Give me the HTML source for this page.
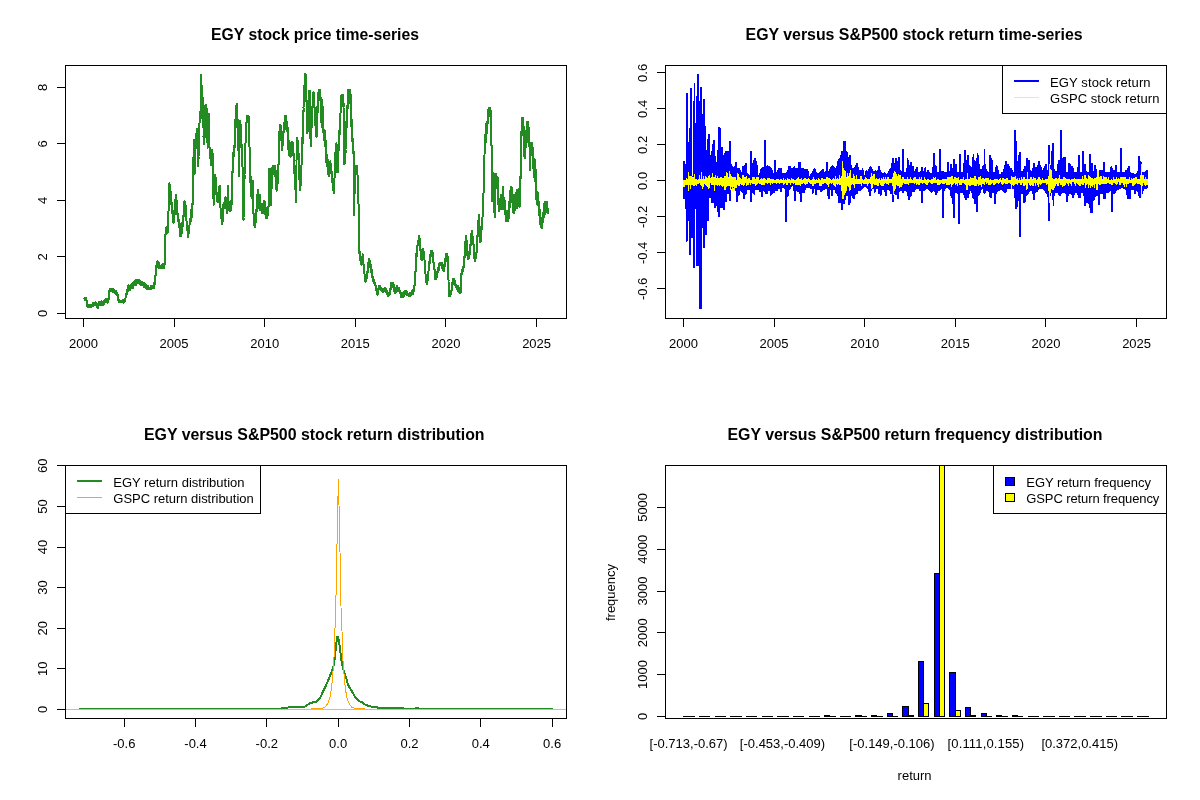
<!DOCTYPE html>
<html lang="en"><head><meta charset="utf-8"><title>EGY versus S&amp;P500</title>
<style>html,body{margin:0;padding:0;background:#fff}svg{display:block}text{font-family:"Liberation Sans", sans-serif;fill:#000}.t{font-size:15.9px;font-weight:bold;text-anchor:middle}.a{font-size:13px;text-anchor:middle}.l{font-size:13px}.k{stroke:#000;stroke-width:1;fill:none;shape-rendering:crispEdges}</style></head><body>
<svg width="1200" height="800" viewBox="0 0 1200 800">
<rect width="1200" height="800" fill="#fff"/>
<text class="t" x="315" y="40.1" textLength="207.8" lengthAdjust="spacingAndGlyphs">EGY stock price time-series</text>
<path class="k" d="M83.5 318.5H536.5M83.5 318.5v8M174.5 318.5v8M264.5 318.5v8M355.5 318.5v8M445.5 318.5v8M536.5 318.5v8M65.5 87.5V313.5M65.5 313.5h-8.5M65.5 256.5h-8.5M65.5 200.5h-8.5M65.5 143.5h-8.5M65.5 87.5h-8.5"/>
<text class="a" x="83.4" y="347.5">2000</text>
<text class="a" x="174" y="347.5">2005</text>
<text class="a" x="264.7" y="347.5">2010</text>
<text class="a" x="355.3" y="347.5">2015</text>
<text class="a" x="446" y="347.5">2020</text>
<text class="a" x="536.6" y="347.5">2025</text>
<text class="a" transform="translate(46.7 313.3) rotate(-90)">0</text>
<text class="a" transform="translate(46.7 256.8) rotate(-90)">2</text>
<text class="a" transform="translate(46.7 200.3) rotate(-90)">4</text>
<text class="a" transform="translate(46.7 143.8) rotate(-90)">6</text>
<text class="a" transform="translate(46.7 87.3) rotate(-90)">8</text>
<polyline fill="none" stroke="#228b22" stroke-width="2" stroke-linejoin="round" shape-rendering="crispEdges" points="84.1,298.6 84.1,298.7 84.2,298.6 84.3,298.2 84.3,298.2 84.4,298.2 84.5,298.5 84.6,300.1 84.6,298.9 84.7,298.4 84.8,299.4 84.8,299.6 84.9,299.5 85,298.5 85.1,299 85.1,300 85.2,298.4 85.3,298.7 85.3,298.2 85.4,298.2 85.5,298.2 85.6,298.7 85.6,298.2 85.7,299.6 85.8,300 85.8,299.8 85.9,298.2 86,298.7 86.1,299.6 86.1,300.1 86.2,299.2 86.3,299.8 86.3,299.9 86.4,300.2 86.5,300.5 86.5,300.5 86.6,300.9 86.6,301.6 86.7,301.8 86.8,302.3 86.8,302.9 86.9,303.5 87,303.1 87.1,304.2 87.1,305.4 87.2,305.1 87.3,305.9 87.3,306.2 87.3,306.2 87.4,306.6 87.5,306.7 87.6,305.9 87.6,306.1 87.7,306.7 87.8,306.2 87.8,306.8 87.9,306.4 88,306.9 88.1,307.1 88.1,306.2 88.2,306.5 88.3,306 88.3,306.3 88.4,305.4 88.5,305.5 88.6,305.9 88.6,307 88.7,307.1 88.8,305.7 88.8,305.5 88.9,306.6 89,304.9 89.1,305.5 89.1,306.1 89.2,307.1 89.3,307.1 89.3,306.5 89.4,306.2 89.5,306.2 89.6,307.1 89.6,306.6 89.7,306.3 89.8,306.8 89.8,306.5 89.9,306.4 90,305.6 90.1,306.2 90.1,306.1 90.2,307.1 90.3,307.1 90.3,306.8 90.4,306.9 90.5,306.7 90.6,306.7 90.6,306.7 90.6,306.7 90.7,306.3 90.8,306.5 90.8,305.5 90.9,304.6 91,305.4 91.1,305.3 91.1,306.1 91.2,307.1 91.3,306.1 91.3,305.6 91.4,306.1 91.5,306.5 91.6,306 91.6,305.8 91.7,306.5 91.8,306.5 91.8,305.2 91.9,305.5 92,305.7 92.1,304.8 92.1,305.6 92.2,304.9 92.3,306.1 92.3,305.9 92.4,305.7 92.5,305 92.6,305.1 92.6,303.6 92.7,303.7 92.8,305 92.8,303.3 92.9,305.2 93,303.6 93,305.2 93.1,304.3 93.2,305.4 93.3,305.2 93.3,303.7 93.4,305.5 93.5,306 93.5,305 93.6,304.7 93.7,304.6 93.8,304.5 93.8,304.6 93.8,304.5 93.9,304.5 94,304.2 94,303.9 94.1,303.3 94.2,304.9 94.3,304.3 94.3,305.1 94.4,304.5 94.5,303.6 94.5,303.6 94.6,303.4 94.7,303.8 94.8,303.5 94.8,303.5 94.9,302.5 95,302.6 95,304.8 95.1,303.5 95.2,302.6 95.3,303.5 95.3,304.8 95.4,302.7 95.5,303 95.5,302.7 95.6,302.5 95.7,303.3 95.8,303.2 95.8,303.3 95.9,302.6 96,303.2 96,302.9 96.1,302.9 96.2,302.8 96.3,302.9 96.3,303 96.3,303.1 96.4,303.5 96.5,303.6 96.5,303.5 96.6,303.5 96.7,304.6 96.8,304.3 96.8,304.5 96.9,304.8 97,306.1 97,306.2 97.1,306.2 97.2,305.5 97.3,304.7 97.3,306.5 97.4,307.3 97.5,306.8 97.5,307.2 97.6,307.6 97.7,307.7 97.8,307.8 97.8,307.7 97.9,307.8 97.9,307.7 98,307.6 98,307.5 98.1,307.5 98.2,308.2 98.3,308.2 98.3,305.9 98.4,304.5 98.5,305.9 98.5,304.7 98.6,304.9 98.7,305.6 98.8,303.5 98.8,302.3 98.9,303.7 99,303.8 99,303.5 99.1,303.4 99.2,302.6 99.3,302 99.3,302.4 99.4,302.2 99.5,302.1 99.5,302.1 99.5,302.2 99.6,302.4 99.7,302 99.8,301.9 99.8,301.6 99.9,301.5 100,302.5 100,302.1 100.1,303 100.2,303.3 100.3,305 100.3,302.7 100.4,303.9 100.5,303.5 100.5,303.5 100.6,302.3 100.7,302.9 100.8,304.1 100.8,303.9 100.9,304.1 101,303.9 101,305.1 101.1,304.6 101.2,302.6 101.3,303.2 101.3,302.4 101.4,301.1 101.5,303.1 101.5,305.4 101.6,305.1 101.7,304.4 101.8,304.6 101.8,305.4 101.9,305.4 101.9,305.4 102,305.3 102,305.2 102.1,305.4 102.2,305.4 102.3,305.2 102.3,304.1 102.4,304.9 102.5,304.1 102.5,305.2 102.6,303.5 102.7,303.9 102.7,304 102.8,302.9 102.9,305 103,305.5 103,303.9 103.1,304.4 103.2,304.1 103.2,301.3 103.3,302.8 103.4,303 103.5,303.1 103.5,302 103.6,302.3 103.7,302.4 103.7,303.6 103.8,303.2 103.9,302.7 104,303.8 104,302.2 104.1,301.8 104.2,300.3 104.2,302.7 104.3,303 104.4,302.9 104.5,302.6 104.5,301.9 104.6,301.7 104.7,301.2 104.7,300.9 104.8,301 104.9,302 105,301.4 105,300.9 105.1,300.5 105.2,300.5 105.2,300.5 105.2,300.6 105.3,300.6 105.4,300.4 105.5,299.8 105.5,300.1 105.6,301.2 105.7,300.4 105.7,300.2 105.8,300.2 105.9,300.5 106,299 106,299.8 106.1,299.4 106.2,301 106.2,299.9 106.3,300.8 106.4,302 106.5,300.7 106.5,300 106.6,300.5 106.7,300.5 106.7,299.6 106.8,300.6 106.9,302.4 107,300.9 107,300.5 107.1,299.5 107.2,300.5 107.2,299.3 107.3,299.1 107.4,301.2 107.5,299.9 107.5,301.3 107.6,302.2 107.7,301.3 107.7,301.3 107.8,302.6 107.9,301.1 108,300.1 108,299.1 108.1,300.1 108.2,301.3 108.2,301.1 108.3,300.4 108.4,300.4 108.4,300.5 108.5,300.3 108.5,299.7 108.6,299.2 108.7,298.7 108.7,297.7 108.8,297.1 108.9,296.8 109,296 109,295.9 109.1,296.8 109.2,295.5 109.2,294 109.3,291.3 109.4,292.1 109.5,290.1 109.5,289.8 109.6,290.4 109.7,289.9 109.7,289.1 109.7,289.1 109.8,288.9 109.9,288.7 110,289.3 110,291 110.1,290.2 110.2,288.7 110.2,288.7 110.3,288.7 110.4,288.7 110.5,288.7 110.5,288.7 110.6,288.7 110.7,289.9 110.7,290.6 110.8,290.9 110.9,289.2 111,289.7 111,289.2 111.1,288.7 111.2,288.7 111.2,288.7 111.3,288.7 111.4,289.2 111.5,289 111.5,289.3 111.6,290.3 111.7,288.7 111.7,288.7 111.8,288.8 111.9,289.5 112,288.8 112,290.2 112.1,289.7 112.2,288.7 112.2,288.7 112.3,289.3 112.4,289.3 112.5,288.9 112.5,289.1 112.5,289.2 112.6,289.7 112.7,289.4 112.7,289.3 112.8,288.7 112.9,291.9 112.9,290.4 113,291.8 113.1,289.9 113.2,290.2 113.2,288.7 113.3,289.1 113.4,291 113.4,289.2 113.5,291.3 113.6,291.2 113.7,289.7 113.7,289.9 113.8,290 113.9,290.6 113.9,290.3 114,290 114.1,290.5 114.2,290 114.2,289.5 114.3,290.8 114.4,292.3 114.4,290.3 114.5,291.3 114.6,291.1 114.7,291.1 114.7,292.3 114.8,292.1 114.9,292.5 114.9,292.4 114.9,292.4 115,292.4 115.1,292.2 115.2,292.8 115.2,292.6 115.3,293.3 115.4,293 115.4,291.8 115.5,292.5 115.6,292.9 115.7,294.1 115.7,292.5 115.8,293 115.9,291.4 115.9,293.4 116,292.3 116.1,291.2 116.2,292.7 116.2,294.5 116.3,292.4 116.4,292.2 116.4,292.5 116.5,292.3 116.6,293.8 116.7,293.2 116.7,293.1 116.8,294.5 116.9,293.6 116.9,294.6 117,293.6 117.1,293.4 117.2,293.2 117.2,295.1 117.3,294.7 117.4,294.8 117.4,294.8 117.4,295.1 117.5,295.5 117.6,296.8 117.7,295.8 117.7,294.9 117.8,295.1 117.9,295.2 117.9,297.4 118,298.5 118.1,297.4 118.2,296.7 118.2,297.8 118.3,300 118.4,297 118.4,299.3 118.5,298.8 118.6,300.8 118.7,299.9 118.7,300.5 118.8,300.4 118.9,301.1 118.9,302 119,302.1 119,302.1 119.1,302 119.2,301.3 119.2,301.5 119.3,301.8 119.4,301.9 119.4,301.9 119.5,301 119.6,301.6 119.7,301.9 119.7,302.5 119.8,302.5 119.9,302.5 119.9,301.5 120,301.8 120.1,301.4 120.2,301.1 120.2,301.6 120.3,300.9 120.4,302.1 120.4,301.9 120.5,302.1 120.6,301.8 120.7,301.2 120.7,300.8 120.8,301.3 120.9,301.2 120.9,301.8 121,301.8 121.1,300.7 121.2,301.6 121.2,301.1 121.3,301.4 121.4,301.7 121.4,301.8 121.4,301.8 121.5,301.8 121.6,301.7 121.7,301.6 121.7,301.4 121.8,300.9 121.9,301.2 121.9,301.1 122,301.6 122.1,300.6 122.2,301.6 122.2,301.9 122.3,301.7 122.4,301.4 122.4,302.1 122.5,300.4 122.6,301.7 122.6,302 122.7,302.1 122.8,302.3 122.9,301.4 122.9,301.4 123,302.2 123.1,302.3 123.1,302.2 123.2,300.6 123.3,301.9 123.4,302.5 123.4,302.5 123.5,302.5 123.6,300.6 123.6,302.2 123.7,301.8 123.8,299.5 123.9,301.3 123.9,300.3 124,300.1 124.1,300.6 124.1,302.5 124.2,301.7 124.3,302 124.4,302.5 124.4,302.5 124.5,302.1 124.6,301.8 124.6,301.7 124.7,301.8 124.7,301.7 124.8,301.4 124.9,301.1 124.9,301.2 125,300 125.1,299.8 125.1,300.2 125.2,300 125.3,300.2 125.4,299.4 125.4,298.2 125.5,298.2 125.6,296.7 125.6,295.3 125.7,296.8 125.8,296.4 125.9,296.5 125.9,294.3 126,294.8 126.1,294.6 126.1,294.3 126.2,293.8 126.3,294 126.3,294 126.4,293.9 126.4,293.4 126.5,293.2 126.6,293.5 126.6,290.5 126.7,291.4 126.8,292.4 126.9,292.7 126.9,293.8 127,293.4 127.1,292.1 127.1,291.5 127.2,291.7 127.3,290.1 127.4,289.9 127.4,290.7 127.5,292 127.6,289.9 127.6,289.1 127.7,288.9 127.8,290 127.9,288.6 127.9,289.7 128,287.1 128.1,286.9 128.1,286.7 128.2,287.1 128.3,287 128.4,285.9 128.4,285.9 128.4,285.9 128.5,285.8 128.6,285.3 128.6,286.4 128.7,286.8 128.8,287.1 128.9,286.1 128.9,287.6 129,286.7 129.1,288 129.1,286.2 129.2,285.6 129.3,286.8 129.4,286.1 129.4,287.6 129.5,287.7 129.6,286.4 129.6,287.2 129.7,287 129.8,288.5 129.9,287.2 129.9,287.1 130,289 130.1,290.2 130.1,290 130.2,288.6 130.3,288.4 130.4,288.4 130.4,288.3 130.4,288.1 130.5,288.1 130.6,288.2 130.6,287.4 130.7,285.9 130.8,285.2 130.9,287.4 130.9,286.5 131,286.8 131.1,287.2 131.1,287.8 131.2,286.8 131.3,287.3 131.4,285.8 131.4,285.8 131.5,285 131.6,287.2 131.6,286.5 131.7,285.3 131.8,285.3 131.9,285.3 131.9,286.4 132,284.2 132.1,284.3 132.1,284.9 132.2,286.1 132.3,285.4 132.3,285.1 132.3,285.1 132.4,285.7 132.5,285.3 132.6,284.9 132.6,286.1 132.7,286 132.8,286.2 132.8,284.7 132.9,287.2 133,287.8 133.1,286.6 133.1,286.3 133.2,282.9 133.3,284.9 133.3,284.6 133.4,285.3 133.5,285.8 133.6,284.7 133.6,282.7 133.7,284.5 133.8,283.7 133.8,284 133.9,283.7 134,283.9 134.1,281.8 134.1,285 134.2,284.9 134.3,285.2 134.3,285.3 134.4,284.6 134.4,284.6 134.5,284.3 134.6,283.7 134.6,283.6 134.7,283.9 134.8,281.8 134.8,283.4 134.9,281.7 135,283.2 135.1,283.2 135.1,282.9 135.2,282.9 135.3,282.3 135.3,281.9 135.4,280.4 135.5,281.8 135.6,284.6 135.6,285.5 135.7,285.1 135.8,284 135.8,281.8 135.9,283.7 136,282.3 136.1,281.8 136.1,281.2 136.2,281.4 136.3,280.7 136.3,280.8 136.4,279.8 136.5,279.9 136.6,282.8 136.6,281.1 136.7,280.5 136.8,280.6 136.8,280.3 136.9,280.2 136.9,280.2 137,280.5 137.1,280.6 137.1,280.6 137.2,282.1 137.3,280.3 137.3,280.6 137.4,279.9 137.5,282.3 137.6,279.8 137.6,279.8 137.7,279.8 137.8,281.2 137.8,281.8 137.9,283 138,279.8 138.1,281.5 138.1,280.8 138.2,280.1 138.3,281.5 138.3,280.1 138.4,279.8 138.5,279.8 138.6,279.8 138.6,279.8 138.7,281.3 138.8,281.8 138.8,283.6 138.9,282 139,280.1 139.1,280.6 139.1,280.9 139.2,281.1 139.3,281.8 139.3,281.8 139.3,281.7 139.4,281.9 139.5,282 139.6,282.4 139.6,282.4 139.7,283.2 139.8,282.8 139.8,284.2 139.9,283.7 140,283.6 140.1,283.6 140.1,281.4 140.2,282.2 140.3,282.5 140.3,283.2 140.4,281.6 140.5,284.8 140.6,284.1 140.6,282.3 140.7,281.1 140.8,282.5 140.8,283.3 140.9,282.9 141,283.8 141.1,283.3 141.1,284.6 141.2,283.6 141.3,284.1 141.3,285.5 141.4,285.5 141.5,284.7 141.6,284.5 141.6,284.5 141.7,285.1 141.8,285.1 141.8,285 141.8,284.9 141.9,284.4 142,284 142.1,284 142.1,282.1 142.2,282 142.3,283.2 142.3,284.3 142.4,284.3 142.5,282.3 142.5,283.2 142.6,285 142.7,285.3 142.8,284.6 142.8,283.3 142.9,284.7 143,283.7 143,282.6 143.1,282.6 143.2,285.3 143.3,284.8 143.3,285.7 143.4,284 143.5,285.1 143.5,283.5 143.6,283.5 143.7,286.7 143.8,285.7 143.8,283.7 143.9,283.6 144,283.8 144,284.1 144.1,283.5 144.2,283.4 144.2,283.4 144.3,283.5 144.3,283.7 144.4,284.7 144.5,284.6 144.5,285.2 144.6,283.3 144.7,285 144.8,287.2 144.8,286.4 144.9,285.6 145,285.3 145,287.2 145.1,284.7 145.2,284.9 145.3,285.7 145.3,286.4 145.4,285.3 145.5,285.9 145.5,285.5 145.6,285.9 145.7,285.8 145.8,284.6 145.8,285.7 145.9,287.2 146,285.6 146,285.9 146.1,287.2 146.2,285.7 146.3,286.7 146.3,286 146.4,287.6 146.5,288.4 146.5,288.1 146.6,287.5 146.6,287.5 146.7,287.6 146.8,287.7 146.8,288.6 146.9,287.1 147,288.5 147,288 147.1,289.5 147.2,288.7 147.3,287.4 147.3,288.1 147.4,288.9 147.5,288.4 147.5,288.8 147.6,287.8 147.7,285.6 147.8,288.4 147.8,289.2 147.9,288.8 148,288.6 148,289.5 148.1,288.4 148.2,287.7 148.3,288.1 148.3,289.5 148.4,287.5 148.5,289.5 148.5,288.4 148.6,287.4 148.7,289.5 148.8,289.1 148.8,288.1 148.9,288.6 149,289.2 149,289.2 149.1,289.1 149.1,289.2 149.2,289.4 149.3,288.8 149.3,289.2 149.4,289 149.5,288.3 149.5,288.1 149.6,288.7 149.7,288.8 149.8,288.1 149.8,288 149.9,289.5 150,289.3 150,289.5 150.1,289.5 150.2,289.5 150.3,289.5 150.3,288.6 150.4,289.4 150.5,288.4 150.5,289.5 150.6,289.5 150.7,287 150.8,286.7 150.8,288.5 150.9,289.2 151,289.4 151,288.5 151.1,288.7 151.2,289 151.3,288.3 151.3,289.3 151.4,285.8 151.5,287.9 151.5,286.7 151.6,288.5 151.7,287.8 151.8,286.7 151.8,287.8 151.9,286.7 152,286.4 152,286 152.1,287.2 152.2,287.7 152.2,287.7 152.3,287.5 152.3,287.5 152.4,287.5 152.5,287.3 152.5,287.6 152.6,288.2 152.7,287.1 152.7,286.7 152.8,286.6 152.9,286.7 153,285.6 153,287.4 153.1,286.3 153.2,286.8 153.2,285.4 153.3,286.3 153.4,286.6 153.5,285.7 153.5,288.2 153.6,287 153.7,288.3 153.7,287.6 153.8,285.4 153.9,284.9 154,285.7 154,285.4 154.1,285.2 154.2,284.7 154.2,282.6 154.3,283.8 154.4,281.9 154.5,284.2 154.5,283.9 154.6,284 154.7,284.2 154.7,284.3 154.8,284.2 154.8,283 154.9,281.8 155,279.9 155,279.1 155.1,280.9 155.2,278 155.2,278.6 155.3,275.5 155.4,276.1 155.5,274.9 155.5,274.3 155.6,274.4 155.7,275.4 155.7,272.8 155.8,271.3 155.9,269.6 156,269.3 156,268.3 156.1,268 156.1,267.8 156.2,268.1 156.2,265.9 156.3,265.7 156.4,266.9 156.5,265.5 156.5,264 156.6,264 156.7,262 156.7,263.4 156.8,267.1 156.9,265.6 157,262.4 157,261.8 157.1,261.7 157.2,261.7 157.2,261.5 157.2,261.5 157.3,262.1 157.4,262.9 157.5,262.2 157.5,261.1 157.6,261.1 157.7,261.1 157.7,261.1 157.8,262.8 157.9,262.2 158,263.9 158,266.8 158.1,266.9 158.2,263.3 158.2,265.4 158.3,266.7 158.4,264.3 158.5,263.2 158.5,264.3 158.6,262.5 158.7,266.8 158.7,262.3 158.8,263 158.9,264.6 159,265.4 159,266.4 159.1,267 159.2,266.6 159.2,268.4 159.3,265 159.4,266.8 159.5,266.9 159.5,267.6 159.6,267.9 159.6,268 159.7,267.9 159.7,268.2 159.8,268.3 159.9,267.5 160,268.4 160,268.4 160.1,267.3 160.2,268.2 160.2,268.4 160.3,268.4 160.4,268.4 160.5,268 160.5,267.1 160.6,267.3 160.7,266.9 160.7,268.4 160.8,267.5 160.9,267.1 161,265.8 161,267.1 161.1,266.2 161.2,267 161.2,268.4 161.3,268.4 161.4,268.4 161.5,268.4 161.5,268.2 161.6,267.8 161.7,267.3 161.7,268.4 161.8,266.5 161.9,268.4 161.9,268.4 162,266.8 162.1,266.7 162.2,266.3 162.2,267.5 162.3,266.6 162.4,268.4 162.4,267 162.5,264.4 162.6,266 162.7,265.6 162.7,267.2 162.8,267.9 162.9,267.7 162.9,267.7 162.9,267.2 163,268.2 163.1,267.9 163.2,267.5 163.2,268.4 163.3,268.4 163.4,268.4 163.4,268.1 163.5,267.6 163.6,267.7 163.7,265.8 163.7,264.3 163.8,265.5 163.9,264.2 163.9,265.1 164,265.5 164.1,268.4 164.2,265.3 164.2,265.1 164.3,264.9 164.4,265.2 164.4,265.1 164.5,264.8 164.5,264.2 164.6,261.1 164.7,258.2 164.7,256.7 164.8,254.3 164.9,250.5 164.9,248.6 165,246.6 165.1,244.4 165.2,242 165.2,241.9 165.2,240.1 165.3,238.4 165.4,239.8 165.4,234.9 165.5,234.7 165.6,235.2 165.7,233.5 165.7,231.3 165.8,231.6 165.9,231 165.9,230 166,227.9 166.1,227.8 166.1,227.4 166.2,227.3 166.2,227.6 166.3,228.5 166.4,229.6 166.4,228.1 166.5,230.4 166.6,232 166.7,232.6 166.7,233.5 166.8,230.6 166.9,229.6 166.9,231.6 167,227.7 167.1,229.9 167.2,229.2 167.2,229.4 167.3,226.6 167.4,227.8 167.4,230.3 167.5,232.4 167.6,232.9 167.7,232.1 167.7,232.2 167.8,232.2 167.8,231 167.9,228.9 167.9,227.6 168,227.9 168.1,224.2 168.2,218 168.2,216.4 168.3,213.9 168.4,212.7 168.4,213.5 168.5,211.2 168.6,209.5 168.6,209 168.7,207.4 168.7,204.4 168.8,201 168.9,198.5 168.9,197.6 169,196.8 169.1,195.7 169.2,193.2 169.2,190.1 169.3,187 169.4,183.5 169.4,183.1 169.4,183.5 169.5,184.5 169.6,184.6 169.7,187.5 169.7,186.4 169.8,184.5 169.9,191.4 169.9,191.9 170,191.3 170.1,193.6 170.2,195.2 170.2,194.2 170.3,186.3 170.4,189.1 170.4,191.2 170.5,190.9 170.6,194.7 170.7,198.9 170.7,196.7 170.8,195.9 170.9,199.9 170.9,199.1 171,199.8 171,199.8 171.1,200.5 171.2,200.2 171.2,202.1 171.3,201.2 171.4,199.8 171.4,202.3 171.5,205.2 171.6,202.7 171.7,204.8 171.7,204.7 171.8,212.7 171.9,206.5 171.9,210.2 172,208 172.1,207.4 172.1,209.7 172.2,211.2 172.3,212.4 172.4,210.8 172.4,209.4 172.5,209.8 172.6,210.9 172.6,211.1 172.6,211.5 172.7,212.5 172.8,214 172.9,216.1 172.9,215.4 173,211.7 173.1,211.1 173.1,210.8 173.2,218.5 173.3,215.6 173.4,220.1 173.4,220.5 173.5,222.9 173.6,222.9 173.6,220.9 173.7,220.6 173.8,221.3 173.9,222 173.9,222.5 173.9,222.4 174,222.1 174.1,219.4 174.1,219.2 174.2,216.7 174.3,217.1 174.4,218.3 174.4,215.9 174.5,216.5 174.6,210.1 174.6,214 174.7,210.4 174.8,211.6 174.9,210.2 174.9,201.9 175,203.1 175.1,205.4 175.1,209.1 175.2,206.4 175.3,204.7 175.4,198.9 175.4,204 175.5,205.8 175.6,200.9 175.6,198.3 175.7,195.4 175.8,196.4 175.9,195.6 175.9,194.9 175.9,196.1 176,197.4 176.1,196.4 176.1,200.1 176.2,197 176.3,198.4 176.4,200.9 176.4,204 176.5,204.3 176.6,204.9 176.6,202.6 176.7,201 176.8,204.5 176.9,204.3 176.9,203.3 177,203.6 177.1,206.3 177.1,204.8 177.2,206.9 177.3,208.4 177.4,212 177.4,213.5 177.5,214.4 177.5,214.4 177.6,214.4 177.6,215.8 177.7,215.7 177.8,215.7 177.9,220.1 177.9,217.7 178,215.1 178.1,214.1 178.1,218 178.2,219.6 178.3,216.5 178.4,216.6 178.4,220.6 178.5,222.4 178.6,220.4 178.6,223 178.7,224.1 178.8,219.3 178.9,221.4 178.9,224.1 179,223.1 179.1,219.6 179.1,223.3 179.2,226.3 179.3,227.9 179.4,225.8 179.4,227.5 179.5,227.4 179.5,227.8 179.6,228.9 179.6,229.8 179.7,229.6 179.8,227.3 179.9,230 179.9,228.4 180,224.1 180.1,234.5 180.1,233.8 180.2,235.9 180.3,231.3 180.4,235 180.4,235.9 180.5,235.9 180.6,234.6 180.6,231.3 180.7,232.6 180.8,230.2 180.9,231.3 180.9,234.1 181,234.5 181.1,235.4 181.1,235.5 181.1,235.6 181.2,235.8 181.3,234.6 181.4,235.5 181.4,232.4 181.5,231.4 181.6,233.4 181.6,229.1 181.7,229.3 181.8,226.7 181.8,228.6 181.9,232.3 182,228 182.1,228.3 182.1,225.5 182.2,223.6 182.3,222.3 182.3,227.7 182.4,231.3 182.5,227.9 182.6,223.6 182.6,225 182.7,222.7 182.8,224.2 182.8,223 182.9,222.1 183,221.7 183.1,220 183.1,219.5 183.2,219.2 183.2,219 183.3,217.4 183.3,216.8 183.4,215.1 183.5,215.4 183.6,216 183.6,211.2 183.7,210.5 183.8,209.4 183.8,212.7 183.9,215.8 184,214.3 184.1,210.1 184.1,212.8 184.2,205.6 184.3,210.4 184.3,205.9 184.4,201 184.5,208.6 184.6,207.9 184.6,203.1 184.7,202.7 184.8,201.8 184.8,201.4 184.8,201.4 184.9,201.8 185,203.5 185.1,204.7 185.1,207.8 185.2,207.3 185.3,213.5 185.3,208.1 185.4,209.4 185.5,204.8 185.6,205.5 185.6,212.8 185.7,210.2 185.8,213.5 185.8,213.8 185.9,212 186,213.7 186.1,214.5 186.1,215.7 186.2,218.7 186.3,219.7 186.3,219.5 186.4,220.4 186.4,220.9 186.5,221.3 186.6,222.7 186.6,226 186.7,226.3 186.8,225.4 186.8,225 186.9,223.7 187,223.6 187.1,223.8 187.1,225.7 187.2,226.8 187.3,230.2 187.3,229.4 187.4,230 187.5,228.4 187.6,234.6 187.6,234.7 187.7,237.5 187.8,236.6 187.8,237.3 187.9,235.9 188,236.7 188.1,237.2 188.1,237.1 188.1,236.9 188.2,237.4 188.3,236.5 188.3,236.4 188.4,237.1 188.5,233.2 188.6,233.6 188.6,230.5 188.7,229.4 188.8,228.7 188.8,229.1 188.9,229.5 189,229.9 189.1,225.4 189.1,231.1 189.2,230.9 189.3,229.4 189.3,225.9 189.4,225 189.5,225.1 189.6,224.3 189.6,222.5 189.7,222.5 189.7,222.5 189.8,221.8 189.8,222.4 189.9,222.3 190,221.3 190.1,223.9 190.1,218.8 190.2,220 190.3,223.3 190.3,220.2 190.4,218.4 190.5,218.8 190.6,217.4 190.6,221.6 190.7,216.8 190.8,219.3 190.8,214.7 190.9,217.6 191,216.5 191.1,209.7 191.1,213.5 191.2,212 191.3,212.8 191.3,217.9 191.4,212.7 191.5,210.8 191.5,216.4 191.6,214.7 191.7,217.5 191.8,215 191.8,211.4 191.9,211.8 192,213 192,212.2 192.1,211.2 192.1,211.1 192.2,210.1 192.3,208.5 192.3,210.3 192.4,207.9 192.5,203.5 192.5,202.4 192.6,204.7 192.7,204.5 192.8,201.6 192.8,198.3 192.9,198.5 193,194.2 193,193.7 193.1,195.7 193.2,194.2 193.3,193.4 193.3,162.8 193.3,160.3 193.4,156.9 193.5,157.4 193.5,152.6 193.6,146.6 193.7,143.6 193.8,140 193.8,140.2 193.8,143.1 193.9,145.9 194,145 194,149.8 194.1,153.2 194.2,156 194.3,156.1 194.3,162.1 194.4,166.6 194.5,170.2 194.5,173 194.6,174.1 194.6,172.5 194.7,170.6 194.8,171.2 194.8,167 194.9,164.2 195,167.3 195,162.3 195.1,159.7 195.2,159.5 195.3,161.3 195.3,149.4 195.4,149.8 195.5,148.9 195.5,148 195.6,147.5 195.7,146.7 195.7,146.5 195.8,145.3 195.8,144.6 195.9,144.4 196,141.3 196,141.6 196.1,147.1 196.2,143.4 196.3,137.6 196.3,137.2 196.4,133.1 196.5,135.7 196.5,138.3 196.6,131.9 196.7,131.8 196.8,134.5 196.8,130.8 196.9,130.2 197,128.8 197,128.6 197,129.3 197.1,133.7 197.2,134.2 197.3,134.7 197.3,135.6 197.4,138.4 197.5,143.9 197.5,145.4 197.6,154.2 197.7,151.7 197.8,156.7 197.8,155.5 197.9,157.6 198,153 198,157.2 198.1,160 198.2,162.1 198.3,163.5 198.3,166 198.3,165.2 198.4,162.2 198.5,159.3 198.5,156.5 198.6,155.4 198.7,148 198.8,144.5 198.8,146.1 198.9,144.4 199,140.1 199,136.1 199.1,132.6 199.2,132.3 199.3,132.8 199.3,127.3 199.4,126.1 199.4,123.8 199.5,123.6 199.5,124.1 199.6,121 199.7,117.5 199.8,115.9 199.8,117.7 199.9,118.8 200,118.3 200,120.5 200.1,111.8 200.2,119.5 200.3,115.1 200.3,116.8 200.4,118.1 200.5,117.6 200.5,118.2 200.6,118.9 200.6,116.3 200.7,110.4 200.8,104.9 200.8,95.1 200.9,88.6 201,82.7 201,77.9 201.1,75 201.1,75.9 201.2,76.5 201.3,76.1 201.3,79.4 201.4,84.7 201.5,85.2 201.5,89.3 201.6,87.1 201.7,92.3 201.7,95 201.8,90.2 201.9,95.1 202,92.4 202,92.2 202.1,91.8 202.2,93.8 202.2,94.5 202.2,95.2 202.3,98.3 202.4,101 202.5,103.4 202.5,96.8 202.6,102.8 202.7,110.2 202.7,108 202.8,112.4 202.9,107.5 203,116.8 203,118.2 203.1,121.9 203.2,123.5 203.2,123.8 203.2,124.7 203.3,127.1 203.4,125.9 203.5,126.1 203.5,136.6 203.6,130.4 203.7,129.2 203.7,131.3 203.8,129.9 203.9,138.9 204,143.7 204,138.3 204.1,136 204.2,141.6 204.2,142.9 204.3,143.2 204.3,143.2 204.4,140.7 204.5,138.2 204.5,133.1 204.6,128.3 204.7,132.4 204.7,126.7 204.8,135 204.9,127.5 205,120.3 205,122.2 205.1,124.6 205.2,118.2 205.2,110.4 205.3,109.9 205.4,108.5 205.5,105.1 205.5,105.1 205.5,106 205.6,106.3 205.7,104.7 205.7,104.7 205.8,104.7 205.9,106.7 206,107.7 206,112.8 206.1,112.8 206.2,104.7 206.2,108.5 206.3,112.7 206.4,112.2 206.5,113.7 206.5,109.5 206.6,108.4 206.7,110.9 206.7,110.6 206.8,110.8 206.8,113.5 206.9,115.7 207,118.8 207,118.8 207.1,120 207.2,122.5 207.2,129.8 207.3,136.4 207.4,135.6 207.5,142.8 207.5,145.7 207.6,148.1 207.6,147.3 207.7,145.1 207.7,140.5 207.8,143.9 207.9,137.5 208,137 208,135.4 208.1,138.2 208.2,130.4 208.2,132.2 208.3,124.3 208.4,127 208.5,120.5 208.5,118.5 208.6,119.3 208.7,115.5 208.7,114 208.7,116.3 208.8,119.9 208.9,121 209,126.3 209,124.9 209.1,134.2 209.2,139.4 209.2,137.2 209.3,139.2 209.4,143.6 209.5,146.8 209.5,149.8 209.5,149.8 209.6,149.3 209.7,149.9 209.7,150.6 209.8,151.6 209.9,154.2 210,150.4 210,156 210.1,155.8 210.2,154.6 210.2,152.2 210.3,152.5 210.4,158.6 210.5,156.9 210.5,160.3 210.6,163.7 210.7,164.4 210.7,164.8 210.8,164.3 210.8,164.4 210.9,164.2 211,163.8 211,164.8 211.1,163 211.2,165.3 211.2,165.2 211.3,164.1 211.4,162.5 211.4,161.2 211.5,159.8 211.6,158.8 211.7,160.7 211.7,155.7 211.8,161.5 211.9,156.6 211.9,158.3 212,154.7 212.1,152.5 212.2,157.3 212.2,152.4 212.3,149.6 212.4,149.7 212.4,149.8 212.4,149.9 212.5,152.7 212.6,156 212.7,155.6 212.7,159.4 212.8,163.5 212.9,170.2 212.9,165.9 213,169.3 213.1,171.1 213.2,172 213.2,174.9 213.3,175.8 213.3,179 213.4,186 213.4,193 213.5,198.8 213.6,204.6 213.6,204.5 213.7,202.6 213.7,201.5 213.8,200.9 213.9,196.2 213.9,196.1 214,191.9 214.1,189.5 214.2,187.2 214.2,185.3 214.3,185.4 214.4,181.9 214.4,179.1 214.5,176.9 214.6,175.8 214.6,175.6 214.7,175.3 214.7,175.5 214.8,175.3 214.9,175.3 214.9,175.3 215,181.9 215.1,182.6 215.2,180.2 215.2,177.8 215.3,184 215.4,179.8 215.4,177.6 215.5,177.7 215.6,177.6 215.7,177.8 215.7,177.4 215.7,179.1 215.8,180.7 215.9,184 215.9,184.1 216,189.7 216.1,190.2 216.2,192.4 216.2,193.2 216.2,194 216.3,193.3 216.4,193.3 216.4,191.4 216.5,193.6 216.6,194.2 216.7,194 216.7,193.2 216.8,193.9 216.9,193.4 216.9,196.9 217,201.1 217.1,193.2 217.2,195.6 217.2,195.9 217.3,198.7 217.4,195.8 217.4,197.3 217.5,195.5 217.6,199.9 217.7,199.9 217.7,199.4 217.8,200.8 217.9,200 217.9,198.5 218,200.9 218.1,201.3 218.1,201.4 218.2,201.3 218.2,201.5 218.3,199.2 218.4,197.5 218.4,200.9 218.5,202.5 218.6,196.7 218.7,192.9 218.7,192.6 218.8,192.4 218.9,188.8 218.9,191.7 219,188.5 219.1,187.1 219.2,192.3 219.2,189 219.3,189.2 219.4,190.8 219.4,191 219.5,188 219.6,187.3 219.7,185.9 219.7,186.2 219.8,185.5 219.8,186.4 219.9,188.5 219.9,191.6 220,194.2 220.1,199.7 220.2,202.9 220.2,199.7 220.3,201.3 220.4,201.7 220.4,205.4 220.5,207.7 220.6,209.5 220.6,209.7 220.7,209.5 220.7,210 220.8,211.5 220.9,210.3 220.9,210.5 221,212.3 221.1,215.3 221.2,215.7 221.2,214.5 221.3,218.7 221.4,217.5 221.4,217.7 221.5,216.6 221.6,218.5 221.6,221.9 221.7,221.1 221.8,223 221.9,224.1 221.9,224.1 221.9,223.6 222,222.1 222.1,223.4 222.1,223.9 222.2,222.4 222.3,216.7 222.4,215.9 222.4,220 222.5,222.8 222.6,220 222.6,220.8 222.7,216.2 222.8,215.2 222.9,214.9 222.9,215.4 223,210.3 223.1,214.2 223.1,216.2 223.2,210.2 223.3,207.1 223.4,210 223.4,208 223.5,203.8 223.6,208.3 223.6,208 223.7,206.9 223.8,206.9 223.8,206.2 223.9,205.9 223.9,205.7 224,204.1 224.1,203.1 224.1,204.6 224.2,202.8 224.3,202.2 224.4,207.4 224.4,206.9 224.5,206.3 224.6,205.1 224.6,204.4 224.7,206.5 224.8,203 224.9,206.7 224.9,200.1 225,199.4 225.1,197.7 225.1,197.8 225.2,199.6 225.3,200.6 225.4,198.5 225.4,198.2 225.4,198.1 225.5,198.3 225.6,198 225.6,199.3 225.7,197.1 225.8,199.9 225.9,201.4 225.9,200.5 226,199.7 226.1,198.9 226.1,207.7 226.2,202.6 226.3,208.9 226.4,209 226.4,207 226.5,204.6 226.6,209.9 226.6,213.2 226.7,209 226.8,209.5 226.9,212.1 226.9,212.1 227,213.1 227.1,212.7 227.1,212.8 227.1,209.9 227.2,209.6 227.3,205.4 227.4,198.9 227.4,198.6 227.5,197.2 227.6,199.9 227.6,194.1 227.7,191.4 227.8,189.3 227.9,186.9 227.9,185.5 227.9,186.9 228,189 228.1,189.9 228.1,191.7 228.2,193.4 228.3,192.4 228.4,198.7 228.4,196.2 228.5,201 228.6,202.7 228.6,203.4 228.7,204.6 228.7,204.6 228.8,205.1 228.9,206.1 228.9,206.4 229,208.2 229.1,205.8 229.1,206.9 229.2,202.7 229.3,207.6 229.4,207.9 229.4,206.7 229.5,210.5 229.6,210.8 229.6,202.1 229.7,206.6 229.8,204.5 229.9,210.4 229.9,211.5 230,210.7 230.1,210.5 230.1,210.2 230.2,210.9 230.3,211.2 230.3,211.1 230.4,210.8 230.4,211.1 230.5,209.1 230.6,209.1 230.6,210.7 230.7,210.5 230.8,205.6 230.9,204 230.9,203.7 231,204.2 231.1,207.2 231.1,201.3 231.2,203.5 231.3,204.3 231.3,204 231.4,203.2 231.5,205.4 231.6,202.9 231.6,202 231.7,200.3 231.8,200.5 231.8,196.6 231.9,196.9 231.9,196.5 232,194.4 232.1,190.3 232.1,184.8 232.2,182.4 232.3,178.7 232.3,178.6 232.4,171.1 232.5,173.7 232.6,169.4 232.6,165.2 232.7,161.6 232.8,159.5 232.8,159.2 232.8,158.2 232.9,158.2 233,157.7 233.1,154 233.1,155 233.2,153.2 233.3,156 233.3,162.8 233.4,160.6 233.5,156.3 233.6,149.9 233.6,148.2 233.7,146.3 233.8,154 233.8,151.2 233.9,152.9 234,150.9 234.1,152.6 234.1,155.7 234.2,151.9 234.3,151.5 234.3,151.2 234.4,151.4 234.4,150 234.5,146.5 234.6,142.3 234.6,138.2 234.7,139.8 234.8,147.4 234.8,135.3 234.9,135.8 235,132.1 235.1,127.2 235.1,125.6 235.2,123.8 235.2,123.7 235.3,124.1 235.3,120 235.4,120.9 235.5,121.2 235.6,117.6 235.6,118.5 235.7,121.4 235.8,118.8 235.8,118.4 235.9,119 236,106.9 236.1,117.2 236.1,123.7 236.2,119.9 236.3,118.1 236.3,106.4 236.4,107.4 236.5,104.8 236.6,104.7 236.6,108 236.7,104.9 236.8,104.7 236.8,104.2 236.8,104.5 236.9,105.9 237,106.1 237.1,106.4 237.1,115.5 237.2,109 237.3,107.7 237.3,109.2 237.4,119.3 237.5,127.5 237.6,123.8 237.6,119.3 237.7,120.3 237.8,124.9 237.8,123.9 237.9,126.6 238,127 238,128.3 238.1,132.6 238.1,137 238.2,143.3 238.3,141.3 238.3,149.7 238.4,149.5 238.5,150.4 238.6,156.1 238.6,159.5 238.7,161.6 238.8,164.7 238.8,169.7 238.9,174.7 238.9,175.8 239,174 239.1,171.7 239.1,166.8 239.2,163.2 239.3,160.6 239.3,153 239.4,148.2 239.5,148.3 239.6,144.5 239.6,138.2 239.7,139.2 239.8,135.1 239.8,134.7 239.9,129.7 240,125.5 240.1,122.3 240.1,121.3 240.1,121.8 240.2,122.5 240.3,125.5 240.3,127.9 240.4,132.2 240.5,123.4 240.6,126 240.6,127.6 240.7,131.2 240.8,130.8 240.8,131.4 240.9,136.6 241,137 241,135.8 241.1,139.4 241.2,139.9 241.2,140 241.3,141.6 241.3,142.1 241.4,146 241.5,146 241.5,144.8 241.6,146.4 241.7,146.6 241.8,151.2 241.8,153.7 241.9,155.1 242,154.4 242,144.4 242.1,155.1 242.2,154.4 242.3,161.2 242.3,165.3 242.4,165.9 242.5,166.9 242.5,167.6 242.5,172.4 242.6,181.2 242.7,190 242.8,199.5 242.8,209.3 242.8,209.5 242.9,211.1 243,211.9 243,213.1 243.1,213.9 243.2,216 243.3,217.8 243.3,218.1 243.4,218.5 243.5,219.8 243.5,220.1 243.5,217.6 243.6,214.3 243.7,213.3 243.8,211.3 243.8,207.9 243.9,202.4 244,205.9 244,199.9 244.1,195.8 244.2,190.8 244.3,185.4 244.3,182.7 244.4,181.3 244.5,179 244.5,178.5 244.5,175.1 244.6,170.9 244.7,168.8 244.8,163.6 244.8,166.3 244.9,167.1 245,171.5 245,164.5 245.1,155.3 245.2,150.5 245.3,143.7 245.3,145.3 245.4,144.2 245.4,143.2 245.5,142.8 245.5,142 245.6,140.6 245.7,140.3 245.8,142.2 245.8,133.6 245.9,131.5 246,126.2 246,135.3 246.1,136.4 246.2,133.5 246.3,124.5 246.3,125.2 246.4,123.5 246.5,122.5 246.5,121.1 246.6,120.5 246.6,120.3 246.7,121.1 246.8,120.9 246.8,119.4 246.9,119 247,117.2 247,121.7 247.1,118.6 247.2,119.8 247.3,117.1 247.3,116 247.4,119.4 247.5,116 247.5,118.7 247.6,118.8 247.7,116 247.8,116 247.8,116.1 247.9,116.4 247.9,116.1 248,117.1 248,117 248.1,118.4 248.2,117 248.3,119.1 248.3,116 248.4,117.9 248.5,121.5 248.5,120.7 248.6,118.5 248.7,116.3 248.8,120.1 248.8,121.7 248.9,121.3 249,121.5 249,122.1 249,124.6 249.1,128.9 249.2,133.6 249.3,138.4 249.3,134.5 249.4,143.4 249.5,147.3 249.5,157.5 249.6,159.4 249.7,162.8 249.8,167.8 249.8,172.5 249.8,172.5 249.9,172.9 250,172 250,173 250.1,176 250.2,181.5 250.3,180.6 250.3,179 250.4,181.7 250.5,182.4 250.5,185.1 250.6,184.6 250.7,181 250.8,181.3 250.8,181.5 250.9,182.3 251,182.7 251,180.2 251.1,176.7 251.2,180.3 251.2,180.1 251.3,183.7 251.4,184.9 251.4,196.5 251.5,196.3 251.5,195.8 251.6,194.8 251.7,196.3 251.7,197.7 251.8,190.4 251.9,193 252,191.6 252,190.3 252.1,190.8 252.2,185.4 252.2,183.6 252.3,182.2 252.4,181.7 252.5,181.9 252.5,180.7 252.6,180.6 252.6,181.5 252.7,184.8 252.7,188.6 252.8,188.6 252.9,191.9 253,196.2 253,201.1 253.1,204.3 253.2,208.5 253.2,211.1 253.2,211.2 253.3,212 253.4,213.4 253.5,213.2 253.5,216.2 253.6,216.9 253.7,216.8 253.7,217 253.8,218.7 253.9,221 254,222.1 254,221.6 254.1,223.1 254.2,222.3 254.2,225.2 254.3,223.6 254.4,219.8 254.5,225 254.5,225.1 254.6,225 254.7,226.2 254.7,226.6 254.7,226.6 254.8,226.3 254.9,223.7 255,224.6 255,223.1 255.1,227 255.2,221.5 255.2,216.3 255.3,219.5 255.4,219.3 255.5,218.6 255.5,213.9 255.6,217.9 255.7,222 255.7,214.4 255.8,218.8 255.9,215.7 256,220.9 256,217.5 256.1,215 256.2,215.2 256.2,213.9 256.3,212.8 256.3,212.8 256.4,211.8 256.5,209.3 256.5,211.6 256.6,209.1 256.7,206.5 256.7,207.2 256.8,201.8 256.9,199.8 257,200.6 257,200.2 257.1,201 257.2,203.5 257.2,199.4 257.3,199.9 257.4,199.7 257.5,194.3 257.5,195.4 257.6,192.2 257.7,195 257.7,193.6 257.8,191.8 257.9,189.9 257.9,189.6 258,189.6 258,190.7 258.1,191.4 258.2,191 258.2,194.5 258.3,196.5 258.4,194.3 258.5,198.2 258.5,196.9 258.6,197.4 258.7,198.6 258.7,199.3 258.8,199.8 258.8,199.8 258.9,201.3 259,203 259,201.4 259.1,204.9 259.2,202.7 259.2,202.9 259.3,204.5 259.4,203.6 259.5,209.2 259.5,205.4 259.6,200.4 259.7,205.5 259.7,202.9 259.8,202.4 259.9,195.2 260,203.5 260,206.1 260.1,207.1 260.2,208 260.2,210.4 260.3,206.8 260.4,208.3 260.5,204.5 260.5,204.4 260.6,208.2 260.7,207.9 260.7,203.5 260.8,206.5 260.9,206.4 260.9,205.6 261,207.4 261.1,207.3 261.2,207.4 261.2,207.9 261.2,208.3 261.3,207.4 261.4,208.2 261.4,209.5 261.5,210.6 261.6,206.7 261.7,207.6 261.7,209.3 261.8,211.7 261.9,208.9 261.9,206.8 262,211.7 262.1,213.2 262.2,212.9 262.2,210.2 262.3,211.9 262.4,211.9 262.4,213.2 262.5,210 262.6,211.7 262.7,212 262.7,211.8 262.8,212.7 262.8,212.8 262.9,212.3 262.9,212.1 263,209.8 263.1,210 263.2,210.9 263.2,210.8 263.3,212.5 263.4,206.9 263.4,203.8 263.5,206.9 263.6,208.2 263.7,212.7 263.7,210.1 263.8,204.9 263.9,207.2 263.9,203.3 264,201 264.1,208.8 264.2,205.4 264.2,204.5 264.3,203.3 264.4,203 264.4,201.4 264.4,201.4 264.5,201.8 264.6,201.3 264.7,204.7 264.7,207.5 264.8,207.5 264.9,207.3 264.9,207.3 265,205.6 265.1,211.2 265.2,211.4 265.2,211.5 265.3,211.7 265.4,213.9 265.4,213.7 265.5,214.8 265.6,210.8 265.7,214 265.7,218 265.8,215.3 265.9,215.6 265.9,217 266,217.5 266.1,217.6 266.1,217.5 266.2,217.3 266.2,215.9 266.3,215 266.4,216.7 266.4,215.6 266.5,217.6 266.6,218 266.7,218 266.7,218 266.8,213.7 266.9,212.5 266.9,210.8 267,211.4 267.1,210 267.2,210.4 267.2,211.5 267.3,209.7 267.4,207.8 267.4,207.1 267.5,211.2 267.6,211.5 267.7,213.9 267.7,214.6 267.8,211.1 267.9,212.3 267.9,207.1 268,214.7 268.1,214.3 268.2,210.3 268.2,207.2 268.3,208.8 268.4,206.7 268.4,207.5 268.5,207.9 268.5,207.9 268.6,204.4 268.7,201.9 268.7,196.7 268.8,194.4 268.9,189.7 268.9,184.7 269,184.5 269.1,179 269.2,179.6 269.2,174 269.3,171.1 269.3,169.2 269.4,169.4 269.4,168.8 269.5,168.8 269.6,168.8 269.7,170.7 269.7,168.8 269.8,170.7 269.9,168.8 269.9,169.2 270,169.3 270,169.2 270.1,171.4 270.2,176.6 270.2,180.1 270.3,181.6 270.4,182.1 270.4,182.2 270.5,186.5 270.6,194.2 270.6,197.2 270.7,199.9 270.8,203.8 270.8,205.4 270.9,204.6 270.9,202.5 271,202.6 271.1,201.1 271.1,198.7 271.2,194.9 271.3,189.7 271.4,187.8 271.4,188.1 271.5,187.8 271.6,188.4 271.6,188.1 271.7,185.9 271.8,184.1 271.9,178.6 271.9,172 272,173.6 272.1,172.1 272.1,171.9 272.2,171.7 272.3,169.4 272.4,168.5 272.4,167.9 272.4,167.6 272.5,167.3 272.6,167.8 272.6,167.3 272.7,165.6 272.8,166.5 272.9,173.2 272.9,167.1 273,171.1 273.1,173.1 273.1,174.2 273.2,166.8 273.3,173.7 273.4,169.7 273.4,167.1 273.5,166.2 273.6,168.6 273.6,167.6 273.7,166.5 273.8,170.9 273.9,165.7 273.9,165.6 274,167.9 274.1,169.4 274.1,171.1 274.2,165.6 274.3,169.3 274.4,169 274.4,173.1 274.5,165.6 274.6,166.3 274.6,165.6 274.7,165.6 274.8,165.6 274.9,166.2 274.9,166 274.9,166.3 275,168.3 275.1,170.6 275.1,172.8 275.2,170.1 275.3,171.5 275.4,176.2 275.4,173.1 275.5,172.5 275.6,177.9 275.6,182.8 275.7,176.7 275.8,170.8 275.9,173 275.9,175.9 276,180.3 276.1,184.8 276.1,184.7 276.2,184.3 276.3,186.8 276.4,186.9 276.4,188.9 276.5,190.1 276.5,190.4 276.6,190.6 276.6,189 276.7,187 276.8,186.3 276.9,182.4 276.9,182.5 277,182.3 277.1,186.7 277.1,183.9 277.2,181.4 277.3,178.4 277.4,177.4 277.4,180.1 277.5,180.1 277.6,183.9 277.6,179.3 277.7,182.6 277.8,180.6 277.9,178.8 277.9,174.4 278,174.8 278.1,176.4 278.1,175.8 278.1,175.7 278.2,173.9 278.3,170.8 278.4,167.8 278.4,164.1 278.5,165.8 278.6,163.3 278.6,158.7 278.7,155.2 278.8,155.6 278.9,153.3 278.9,146.8 279,152.3 279.1,147.1 279.1,142.8 279.2,143 279.3,139.6 279.4,135.2 279.4,132.5 279.4,131.9 279.5,131 279.6,127.9 279.6,131.4 279.7,125.5 279.8,130.1 279.9,126.3 279.9,125 280,126.1 280.1,128.5 280.1,130.4 280.2,134.9 280.3,130.2 280.4,129.5 280.4,126 280.5,126.4 280.6,125.5 280.6,125.4 280.6,126.1 280.7,127.2 280.8,128.7 280.8,130.7 280.9,129.3 281,128.2 281.1,134.5 281.1,127.7 281.2,130.3 281.3,140.4 281.3,128 281.4,132.3 281.5,139.7 281.6,134.1 281.6,149 281.7,135.2 281.8,146.3 281.8,150.2 281.9,149.6 282,147.2 282.1,148.3 282.1,148.3 282.2,149.8 282.2,149.7 282.3,148.3 282.3,148.8 282.4,145 282.5,143.9 282.6,144.5 282.6,138.6 282.7,145.3 282.8,143.9 282.8,135.7 282.9,137.8 283,135 283.1,133.9 283.1,135.7 283.2,132.6 283.3,137.4 283.3,131.9 283.4,136 283.5,132.5 283.6,133.2 283.6,129.3 283.7,128 283.8,127 283.8,127 283.8,127.1 283.9,128.8 284,129.7 284.1,128.1 284.1,125.8 284.2,126.6 284.3,125.1 284.3,130.4 284.4,129.9 284.5,122.1 284.6,119.7 284.6,127.1 284.7,125.1 284.8,121.9 284.8,126.4 284.9,121.2 285,119.6 285.1,118 285.1,116 285.2,120 285.3,116 285.3,116 285.4,116 285.5,119.1 285.6,117.7 285.6,117.3 285.7,116 285.8,116.4 285.8,116.4 285.8,116.9 285.9,118.3 286,118.8 286.1,125.5 286.1,124.8 286.2,125.2 286.3,123.8 286.3,122.4 286.4,127.2 286.5,129.9 286.6,121.5 286.6,128.6 286.7,129.3 286.8,130.8 286.8,129.9 286.9,127 287,127.9 287.1,130.3 287.1,130.2 287.1,130.2 287.2,131.6 287.3,131.7 287.3,128.1 287.4,124.3 287.5,124.6 287.6,133.2 287.6,135.5 287.7,136 287.8,138.8 287.8,141.3 287.9,134.4 288,138.5 288.1,139.7 288.1,140.9 288.2,142.9 288.2,143.2 288.3,143.6 288.3,142.6 288.4,143.3 288.5,150 288.6,145.1 288.6,140.5 288.7,146.7 288.8,150.5 288.8,151.8 288.9,146.9 289,153.4 289.1,149.7 289.1,147.7 289.2,150 289.3,152.7 289.3,155.3 289.4,156 289.5,156 289.5,156.2 289.6,156.1 289.6,156.5 289.7,153.3 289.8,150.1 289.8,154.3 289.9,148.7 290,150.2 290.1,151.2 290.1,149.8 290.2,149.1 290.3,155.2 290.3,142.8 290.4,150.5 290.5,156.7 290.5,152.1 290.6,149.5 290.7,151 290.8,154.8 290.8,145.7 290.9,146.4 291,145.7 291,145.9 291.1,145.1 291.1,144.9 291.2,144.7 291.3,144.7 291.3,143.4 291.4,142.2 291.5,142.9 291.5,143.1 291.6,142 291.7,148.3 291.8,144.9 291.8,142 291.9,146.2 292,142 292,144.7 292.1,143.8 292.2,144.4 292.3,144.2 292.3,142 292.4,142.5 292.5,148.3 292.5,142 292.6,142 292.7,142.7 292.8,142.4 292.8,142.4 292.8,144.3 292.9,144.5 293,149.4 293,149.5 293.1,148.8 293.2,150.4 293.3,152.1 293.3,155.3 293.4,154.3 293.5,153.5 293.5,153.9 293.6,158.9 293.7,159 293.8,154.1 293.8,154.8 293.9,157.4 294,157.8 294,159.2 294.1,159.5 294.1,160.4 294.2,162.5 294.3,165.7 294.3,166.4 294.4,173.4 294.5,171.1 294.5,181.7 294.6,179.3 294.7,177.8 294.8,175.2 294.8,168.7 294.9,175.9 295,179.9 295,184.1 295.1,183 295.2,185.3 295.2,185.5 295.3,187 295.3,186 295.4,188.6 295.5,189.9 295.5,193.7 295.6,194.7 295.7,193 295.8,197.9 295.8,199.5 295.9,200.5 296,201.7 296,202.2 296,200.1 296.1,193.6 296.2,186.5 296.3,184.5 296.3,180 296.4,173.4 296.5,165.5 296.5,160.6 296.6,155.2 296.7,149.1 296.8,143.4 296.8,138.4 296.8,138.4 296.9,138.8 297,138 297,138 297.1,141.7 297.2,144.5 297.3,142.5 297.3,143.2 297.4,142.5 297.5,139.6 297.5,148.1 297.6,148 297.7,156.1 297.8,147.4 297.8,147.1 297.9,151.2 298,148.8 298,144.3 298.1,145.5 298.2,149.6 298.3,151.6 298.3,151.8 298.4,153 298.5,153 298.5,153.5 298.5,155.2 298.6,156.4 298.7,159.3 298.8,162.8 298.8,163 298.9,165.3 299,164.5 299,161.6 299.1,163.1 299.2,170.5 299.3,173.1 299.3,178.8 299.4,176.8 299.5,179.8 299.5,183.3 299.6,184.5 299.7,181.1 299.8,182.4 299.8,184.6 299.9,184.8 300,187.9 300,189.8 300.1,190.4 300.1,190.2 300.2,188.7 300.3,187 300.3,185.2 300.4,182.5 300.5,183.4 300.5,181.9 300.6,185.5 300.7,182.7 300.7,180.6 300.8,176.6 300.9,170.5 301,171.7 301,168.8 301.1,172.7 301.2,170 301.2,173.8 301.3,171 301.4,168.8 301.5,165.4 301.5,163.3 301.6,162 301.7,160.2 301.7,159.5 301.7,157.9 301.8,158 301.9,153.9 302,149.9 302,145 302.1,138.1 302.2,144 302.2,140.1 302.3,137.9 302.4,141.5 302.5,143.8 302.5,129.3 302.6,130.3 302.7,126.4 302.7,122.3 302.8,119.1 302.9,115.3 303,113.1 303,110.8 303,110.7 303.1,111.6 303.2,112 303.2,111.2 303.3,110.4 303.4,115.9 303.5,112.2 303.5,107.7 303.6,102.3 303.7,102.3 303.7,98.9 303.8,102.6 303.9,103.6 304,98.5 304,101.1 304.1,101.5 304.1,101 304.2,99.6 304.2,98.7 304.3,94.5 304.4,88.9 304.5,84.7 304.5,85.6 304.6,89.1 304.7,88.3 304.7,82.9 304.8,77.1 304.9,75.6 305,74.2 305,74.2 305,73.8 305.1,75.3 305.2,78.7 305.2,78.6 305.3,81.7 305.4,76.9 305.5,73.8 305.5,76.8 305.6,87.4 305.7,91.1 305.7,86 305.8,91.1 305.9,88.4 306,91.7 306,91.1 306.1,91.2 306.1,91.6 306.2,93.4 306.2,94.2 306.3,93.8 306.4,99.5 306.5,102.4 306.5,104.8 306.6,105.7 306.7,115.7 306.7,112.5 306.8,111.7 306.9,121.3 307,126.8 307,125.3 307.1,119.8 307.2,123.9 307.2,129 307.3,131 307.4,133.4 307.4,133.5 307.5,131.8 307.5,128.8 307.6,129.7 307.7,126.1 307.7,127.1 307.8,119.9 307.9,112.5 308,109.7 308,109.4 308.1,106.1 308.2,113.2 308.2,115 308.3,109.4 308.4,101.2 308.5,100.6 308.5,97.9 308.6,98.6 308.7,95.4 308.7,94.5 308.7,94.3 308.8,91.3 308.9,90.8 309,90.8 309,92.8 309.1,93.5 309.2,90.8 309.2,90.8 309.3,99 309.4,90.8 309.5,90.8 309.5,90.8 309.6,90.8 309.7,90.8 309.7,91.8 309.8,91.7 309.8,91.2 309.9,94.5 310,99.5 310,104.2 310.1,108.6 310.2,112.6 310.2,122.6 310.3,123.3 310.4,128.2 310.4,133.4 310.5,138.5 310.6,143.2 310.6,146.5 310.7,146 310.7,144.4 310.8,142.4 310.9,138.3 310.9,135.3 311,131.6 311.1,134 311.2,130.2 311.2,126.3 311.3,128.9 311.4,129.9 311.4,119.8 311.5,129.1 311.6,124.3 311.7,121.1 311.7,121.5 311.8,118 311.9,115.3 311.9,114 311.9,113.9 312,112.8 312.1,113.2 312.2,109.1 312.2,108.8 312.3,110.1 312.4,119.1 312.4,107.1 312.5,106 312.6,108.1 312.7,105.6 312.7,98.4 312.8,102.5 312.9,101.9 312.9,102.6 313,105.4 313.1,105.2 313.2,101.8 313.2,99 313.3,92.9 313.4,93.7 313.4,93.8 313.5,92.5 313.6,92.1 313.6,92.2 313.7,95 313.7,99.7 313.8,97.4 313.9,99.2 313.9,98.2 314,105.2 314.1,104.6 314.2,103.5 314.2,102.6 314.3,104.6 314.4,101.8 314.4,107.5 314.5,106.4 314.6,109.3 314.7,110.1 314.7,110.8 314.7,111.3 314.8,113.5 314.9,112.5 314.9,115.7 315,115.5 315.1,117.6 315.2,118.6 315.2,123.3 315.3,113.3 315.4,120.3 315.4,116 315.5,126.4 315.6,117.7 315.7,119.4 315.7,118.1 315.8,131.7 315.9,125.5 315.9,129.7 316,129.8 316.1,128 316.2,132.2 316.2,135.4 316.3,136.3 316.3,136.8 316.4,135.9 316.4,134.4 316.5,132.2 316.6,131.9 316.7,136.3 316.7,132.6 316.8,129.2 316.9,123.7 316.9,120.2 317,127.1 317.1,117.9 317.2,114.5 317.2,115.8 317.3,113.8 317.4,122.4 317.4,105.9 317.5,110.8 317.6,112.9 317.7,106 317.7,105 317.8,106.1 317.9,106 317.9,102.9 318,102.6 318,102.3 318.1,103.6 318.2,101 318.2,93.2 318.3,101.7 318.4,98.4 318.4,102.7 318.5,98.3 318.6,94.7 318.7,92.6 318.7,99.8 318.8,100.1 318.9,90 318.9,90 319,92.5 319.1,90.6 319.1,90.4 319.2,90.4 319.2,90.8 319.3,91.1 319.4,90.2 319.4,90.4 319.5,90 319.6,93.7 319.7,90 319.7,91.4 319.8,92.8 319.9,100.3 319.9,98.8 320,96.3 320.1,98.1 320.1,98.1 320.2,99.3 320.3,98.3 320.4,98.3 320.4,97.8 320.4,99.1 320.5,100.1 320.6,103.7 320.6,105.9 320.7,105.9 320.8,100.5 320.9,98.2 320.9,107.9 321,114.2 321.1,117.6 321.1,110.8 321.2,119.4 321.3,116.8 321.4,120.6 321.4,122.6 321.5,121.6 321.6,123.5 321.6,125 321.7,127 321.7,125.2 321.8,122.5 321.9,119.8 321.9,119.3 322,116.3 322.1,110 322.1,108.6 322.2,104.8 322.3,102.6 322.3,100.2 322.4,100.7 322.4,102.9 322.5,105.4 322.6,107 322.6,112.7 322.7,120.5 322.8,116.1 322.9,116.1 322.9,110 323,118.6 323.1,122.1 323.1,122.1 323.2,128.1 323.3,131.1 323.3,131.9 323.4,131.8 323.4,130.9 323.5,133.1 323.6,129.1 323.6,130.3 323.7,139.7 323.8,135.8 323.9,136.2 323.9,134.1 324,129.4 324.1,132.4 324.1,135.4 324.2,130.9 324.3,134.8 324.4,139.9 324.4,141.1 324.5,131.3 324.6,130.8 324.6,129.8 324.7,136.8 324.8,137.4 324.9,137.3 324.9,136.6 324.9,136.8 325,137.7 325.1,139.3 325.1,139.1 325.2,141.8 325.3,145.5 325.4,146.7 325.4,143.2 325.5,139 325.6,145.3 325.6,150 325.7,151.1 325.8,152.2 325.9,153.3 325.9,157 326,158 326.1,159.3 326.1,159.5 326.1,159.1 326.2,159.4 326.3,157.8 326.4,155.9 326.4,157.1 326.5,163 326.6,161.7 326.6,165.7 326.7,161.7 326.8,159.7 326.9,155.3 326.9,156.6 327,164.1 327.1,162.9 327.1,163.9 327.2,164.2 327.3,161.9 327.4,160.5 327.4,161.1 327.5,162.2 327.6,161.8 327.6,161.5 327.7,161.1 327.7,161.2 327.8,161.8 327.9,161.6 327.9,165.1 328,160.2 328.1,163.1 328.1,173.7 328.2,168.9 328.3,165.2 328.4,168.3 328.4,174.2 328.5,172 328.6,173.8 328.6,173.7 328.7,173.8 328.8,176.2 328.8,175.8 328.9,175.7 328.9,174.8 329,174.8 329.1,174.8 329.1,175.6 329.2,174.2 329.3,168.1 329.4,172 329.4,170.2 329.5,169.3 329.6,164.7 329.6,165.6 329.7,165.1 329.8,166.8 329.9,162.4 329.9,165.4 330,166.4 330.1,162.2 330.1,162.6 330.2,162.2 330.3,165 330.3,161.3 330.4,162.7 330.5,162.8 330.5,162.8 330.6,164.1 330.6,163.8 330.7,165.1 330.8,163.6 330.8,171.8 330.9,172.2 331,173.5 331.1,166.2 331.1,164.9 331.2,172.1 331.3,170.9 331.3,170.7 331.4,173 331.5,170.4 331.6,174.3 331.6,174.6 331.7,175.4 331.8,175.8 331.8,175.8 331.8,176 331.9,177.9 332,180 332.1,181.3 332.1,181.6 332.2,182.3 332.3,172.5 332.3,180.4 332.4,180.1 332.5,181.5 332.6,181.2 332.6,178.1 332.7,180 332.8,184.7 332.8,189 332.9,184.7 333,182.7 333.1,188.9 333.1,185.7 333.2,189.9 333.3,188.4 333.3,188.2 333.4,188.8 333.4,189.2 333.5,188.7 333.6,191.1 333.6,190.1 333.7,192.8 333.8,190.9 333.8,186.8 333.9,191.1 334,192.8 334.1,192.8 334.1,192.8 334.2,192.5 334.2,192.4 334.3,189.5 334.3,186.3 334.4,182.3 334.5,179.7 334.6,170.5 334.6,172.8 334.7,171.6 334.8,174.4 334.8,168.9 334.9,163.7 335,160.9 335,159.5 335.1,158.7 335.1,156 335.2,158.3 335.3,158.2 335.3,152.9 335.4,153.2 335.5,156.6 335.6,155.6 335.6,154.2 335.7,148.7 335.8,147 335.8,148.4 335.9,151.4 336,145.8 336.1,143.4 336.1,146.8 336.2,144 336.3,144.2 336.3,143.2 336.3,144.1 336.4,147.6 336.5,149.7 336.6,152.1 336.6,149.9 336.7,150.1 336.8,156.1 336.8,162.5 336.9,165.4 337,170.7 337.1,166.9 337.1,165.9 337.2,168.6 337.3,168.4 337.3,169.6 337.4,171 337.5,172.5 337.5,171.7 337.6,170.6 337.6,167 337.7,168.7 337.8,163.8 337.8,166.3 337.9,158.2 338,158.3 338.1,162.9 338.1,156.7 338.2,156.6 338.3,153.6 338.3,145.1 338.4,150.4 338.5,151.8 338.6,145.7 338.6,148.8 338.7,143.9 338.8,141.3 338.8,142.5 338.9,140.6 339,142.4 339.1,138.7 339.1,138.4 339.1,138.1 339.2,134.7 339.3,131.1 339.3,133.4 339.4,131 339.5,132.3 339.6,135.2 339.6,129.4 339.7,123.7 339.8,114.2 339.8,121.9 339.9,119.2 340,122.6 340,122.7 340.1,115.2 340.2,124.8 340.3,124.7 340.3,122.4 340.4,113.6 340.5,113 340.5,112.1 340.6,111.6 340.7,110.8 340.7,110.8 340.8,110.3 340.8,110.1 340.9,108.1 341,111.7 341,109.7 341.1,95.6 341.2,99.4 341.3,102.8 341.3,108.2 341.4,103.9 341.5,102.2 341.5,99.4 341.6,103.9 341.7,100 341.8,97.5 341.8,95.5 341.9,100.3 342,96.8 342,94.9 342.1,97.3 342.2,95.5 342.3,96.1 342.3,95.3 342.3,95.4 342.4,97.1 342.5,96.2 342.5,96.2 342.6,94.9 342.7,102.6 342.8,102 342.8,106.3 342.9,100.2 343,94.9 343,103.8 343.1,101.9 343.2,101.7 343.3,101.6 343.3,102.8 343.4,102.8 343.5,102.6 343.5,103 343.5,107.2 343.6,111.1 343.7,120.1 343.8,125.5 343.8,126.2 343.9,122.9 344,132.8 344,140.6 344.1,143.8 344.2,145.3 344.3,150.6 344.3,155.5 344.4,161.6 344.4,164.4 344.5,164.1 344.5,162.1 344.6,161.1 344.7,160.8 344.8,157.3 344.8,155.8 344.9,162.4 345,157.1 345,156.7 345.1,150.9 345.2,149.7 345.3,141.9 345.3,144.4 345.4,148.9 345.5,153 345.5,150.1 345.6,146.3 345.7,141.5 345.8,136.9 345.8,136 345.9,136.1 346,133.3 346,132.6 346.1,131.9 346.1,130.1 346.2,127.7 346.3,124.1 346.3,121.4 346.4,127 346.5,124.1 346.5,123.9 346.6,126.9 346.7,127.5 346.8,119.5 346.8,123.2 346.9,119.3 347,115.9 347,114.8 347.1,111.2 347.2,110.9 347.2,110.8 347.3,109.8 347.3,107.5 347.4,105.5 347.5,106.8 347.5,108.9 347.6,106.8 347.7,105.6 347.8,97.7 347.8,94.8 347.9,93.8 348,91.6 348,90.4 348,90.8 348.1,90.8 348.2,90 348.3,91 348.3,97.4 348.4,93.9 348.5,97.7 348.5,91.1 348.6,90 348.7,90 348.8,90 348.8,98.7 348.9,90 349,97.6 349,90 349.1,90 349.2,94.2 349.3,95.1 349.3,93.7 349.4,90 349.5,90.4 349.5,90 349.6,100.4 349.7,93 349.7,92.1 349.8,90 349.9,90.5 350,91.2 350,91.2 350,92.7 350.1,95.3 350.2,94.9 350.2,95.6 350.3,103.7 350.4,98.4 350.5,93.8 350.5,103.1 350.6,101.5 350.7,105.2 350.7,110.7 350.8,110.3 350.9,113.2 350.9,114 351,114.6 351,117.4 351.1,117.3 351.2,117.9 351.2,116.8 351.3,120.5 351.4,126.9 351.5,119.3 351.5,127.2 351.6,121.7 351.7,122.5 351.7,121.5 351.8,133.7 351.9,132.6 352,133.4 352,134 352.1,135.1 352.1,135 352.2,135.7 352.2,140.2 352.3,138.6 352.4,139 352.5,142.1 352.5,138.1 352.6,140.4 352.7,145.3 352.7,144.6 352.8,145.6 352.9,143.9 353,145.8 353,146.2 353.1,148.4 353.2,148.1 353.2,148.1 353.2,148.3 353.3,150.8 353.4,154 353.5,153.5 353.5,150.8 353.6,152.6 353.7,161.9 353.7,159.7 353.8,162.5 353.9,166.9 354,171.4 354,171.6 354.1,173.2 354.2,175.1 354.2,215.2 354.2,212.7 354.3,208.2 354.4,201.9 354.5,197 354.5,195.2 354.6,189.3 354.7,187 354.7,182.3 354.8,177.7 354.8,175.8 354.9,175.7 355,174.4 355,173.6 355.1,178.3 355.2,172.1 355.2,170.7 355.3,175 355.4,172.1 355.5,168.7 355.5,165.6 355.6,170 355.7,172.9 355.7,174.8 355.8,170.3 355.9,170.7 356,166.5 356,166.8 356.1,166.1 356.1,166 356.2,166.3 356.2,167.7 356.3,166.3 356.4,169.7 356.5,167.7 356.5,165.6 356.6,167 356.7,165.6 356.7,167.8 356.8,170.5 356.9,170.1 357,172.6 357,171 357.1,171.8 357.2,169.1 357.2,172.1 357.3,172.2 357.4,173.3 357.4,174.1 357.5,174.7 357.5,177.8 357.6,180.6 357.7,186.5 357.7,191.5 357.8,193.2 357.8,194.2 357.9,196.4 358,197.6 358,198 358.1,196.4 358.2,196.2 358.2,198.6 358.3,201.8 358.4,203.3 358.5,204.2 358.5,205.3 358.6,206.2 358.6,207.5 358.7,214.3 358.7,221.2 358.8,226.9 358.9,232.9 359,240.8 359,247.5 359.1,251.8 359.1,251.8 359.2,252.9 359.2,252.2 359.3,252.2 359.4,252.9 359.5,251 359.5,252.6 359.6,256.3 359.7,256.2 359.7,255.7 359.8,255.6 359.9,254.7 359.9,255.5 360,254.7 360.1,254.5 360.2,254.9 360.2,255 360.2,255.3 360.3,256.2 360.4,255.2 360.4,257.7 360.5,261.1 360.6,261.9 360.7,259.7 360.7,258.4 360.8,260.2 360.9,259.1 360.9,262 361,261.4 361.1,263.4 361.2,264.4 361.2,263.2 361.3,264.4 361.3,264.8 361.4,264.3 361.4,263.4 361.5,262.9 361.6,263.6 361.7,260.6 361.7,262.6 361.8,264.7 361.9,262.7 361.9,261.6 362,259.9 362.1,256.9 362.2,258.4 362.2,258.3 362.3,258.3 362.4,259.7 362.4,257.3 362.5,255.8 362.6,255.1 362.6,254.2 362.7,254.3 362.7,254.8 362.8,255.2 362.9,256.9 362.9,257.1 363,260.7 363.1,262.4 363.2,262.1 363.2,260.6 363.3,262.2 363.4,263.5 363.4,261.5 363.5,263.5 363.6,265.3 363.7,265.6 363.7,268.3 363.8,269.1 363.9,266.8 363.9,267.9 364,267.8 364.1,269.5 364.2,269.8 364.2,270.9 364.3,271.2 364.3,271.6 364.4,272.2 364.4,271.8 364.5,274.4 364.6,274.1 364.7,276.4 364.7,276.3 364.8,276.9 364.9,279.1 364.9,278.2 365,279.7 365.1,276.7 365.2,279.2 365.2,279 365.3,279.5 365.4,280.2 365.4,280.9 365.5,281.7 365.6,281.8 365.6,281.7 365.7,281.2 365.7,281.5 365.8,280.7 365.9,280.9 365.9,279.8 366,280.6 366.1,281.1 366.2,279.2 366.2,278.9 366.3,276.7 366.4,278 366.4,279 366.5,277.2 366.6,278.6 366.7,274.6 366.7,273.3 366.8,273.2 366.9,274.5 366.9,275.3 367,275.2 367.1,274.9 367.2,274.8 367.2,274.5 367.2,274.1 367.3,273.1 367.4,274.1 367.4,271 367.5,271.1 367.6,273.1 367.7,272.2 367.7,269.5 367.8,269.5 367.9,270.4 367.9,270.9 368,267.5 368.1,268.4 368.2,267.6 368.2,268.3 368.3,268.6 368.4,265.7 368.4,262.5 368.5,264 368.6,266.3 368.7,265.1 368.7,263.5 368.8,265.6 368.9,261.1 368.9,261.5 369,260 369.1,259.6 369.1,259.1 369.2,259.1 369.2,259.4 369.3,259.5 369.4,258.7 369.4,260.5 369.5,260.3 369.6,261.8 369.6,260.2 369.7,261.1 369.8,263.9 369.9,263.2 369.9,264.5 370,265 370.1,264.1 370.1,262.1 370.2,265.7 370.3,265.9 370.4,267.5 370.4,264 370.5,264.3 370.6,264.8 370.6,266.4 370.7,267.8 370.8,268 370.8,268.1 370.9,268.6 370.9,269.5 371,269.4 371.1,270.3 371.1,270.7 371.2,267.6 371.3,269.5 371.4,273 371.4,271.9 371.5,272.2 371.6,271.9 371.6,272.2 371.7,274.9 371.8,274.2 371.9,273.1 371.9,270.2 372,273 372.1,273 372.1,273.9 372.2,276.6 372.3,277.3 372.4,277.3 372.4,277.8 372.4,277.9 372.5,277.9 372.6,278.6 372.6,277.3 372.7,276.9 372.8,276.3 372.9,276.7 372.9,279.7 373,277.9 373.1,277.7 373.1,278 373.2,279.8 373.3,279.8 373.4,281.5 373.4,280.3 373.5,279.2 373.6,280 373.6,281.1 373.7,280.7 373.8,281.9 373.9,283 373.9,282.4 374,282.6 374,282.6 374.1,282.7 374.1,282.5 374.2,282.1 374.3,283.1 374.4,283.8 374.4,283.4 374.5,283.6 374.6,285.3 374.6,285.5 374.7,282.8 374.8,283.7 374.9,284.2 374.9,285.3 375,284.6 375.1,283.9 375.1,284 375.2,282.5 375.3,284.3 375.4,284.5 375.4,285.5 375.5,285.1 375.6,285.5 375.6,285.9 375.6,285.9 375.7,286.2 375.8,286.3 375.9,287 375.9,286.3 376,287.2 376.1,285.7 376.1,286.8 376.2,287.4 376.3,289 376.4,289.4 376.4,289.3 376.5,290.6 376.6,290.6 376.6,291.1 376.7,291.8 376.8,291.3 376.9,291.1 376.9,291.9 377,291.6 377.1,292.6 377.1,293.9 377.2,294.3 377.3,293.4 377.4,292.9 377.4,293.8 377.5,294.3 377.6,294.8 377.6,294.8 377.6,294.5 377.7,294.2 377.8,293.4 377.9,292.8 377.9,293.9 378,294.2 378.1,293 378.1,291.8 378.2,289.7 378.3,290.4 378.4,289.7 378.4,289.4 378.5,288.1 378.6,287.9 378.6,287.4 378.7,287.3 378.8,287.2 378.9,286.3 378.9,285.9 378.9,285.8 379,285.5 379.1,285.5 379.1,286.2 379.2,286.6 379.3,285.8 379.3,286.5 379.4,285.6 379.5,285.5 379.6,285.5 379.6,285.5 379.7,287.9 379.8,285.8 379.8,288.1 379.9,289.1 380,287.7 380.1,287.4 380.1,286.8 380.2,287.3 380.3,288.3 380.3,288 380.4,289.1 380.5,289.7 380.6,289 380.6,288.8 380.7,288.4 380.8,288.8 380.8,287.3 380.9,288.6 381,288.8 381.1,288.1 381.1,289.9 381.2,288.8 381.3,288.9 381.3,289.1 381.3,289.1 381.4,288.8 381.5,288.3 381.6,288.2 381.6,288.7 381.7,289.5 381.8,290.7 381.8,290.9 381.9,291.4 382,291 382.1,289.7 382.1,291.1 382.2,289.8 382.3,289.2 382.3,291.5 382.4,291.5 382.5,290.9 382.6,291.3 382.6,291.7 382.7,289.4 382.8,290 382.8,289.1 382.9,290.2 383,289.8 383.1,292 383.1,291.8 383.2,290.4 383.3,290.8 383.3,289.6 383.4,290.7 383.5,291.5 383.6,291.5 383.6,290.7 383.7,291.3 383.8,291.6 383.8,291.6 383.8,291.7 383.9,291 384,291.3 384.1,290.6 384.1,290.9 384.2,291.2 384.3,291.5 384.3,290.2 384.4,290.5 384.5,289 384.6,288.1 384.6,289.9 384.7,289.8 384.8,288 384.8,288.1 384.9,289 385,291 385.1,291 385.1,290.7 385.2,287.9 385.3,288.3 385.3,289.2 385.4,289.2 385.5,289 385.6,288.5 385.6,288.9 385.7,288.5 385.7,288.3 385.8,288.4 385.8,289.3 385.9,289 386,290.1 386.1,291.6 386.1,289.5 386.2,290.1 386.3,289.8 386.3,290.8 386.4,291.1 386.5,293.2 386.6,292.6 386.6,291.8 386.7,293 386.8,292 386.8,291.8 386.9,294.6 387,292.5 387.1,292.3 387.1,292.9 387.2,292.2 387.3,290.9 387.3,294 387.4,293.3 387.5,293.6 387.6,294.1 387.6,294.2 387.7,294.6 387.8,295.3 387.8,295.6 387.8,295.6 387.9,295.8 388,295.1 388.1,295.2 388.1,294.4 388.2,295.5 388.3,295.1 388.3,295.1 388.4,295 388.5,294.4 388.6,293.2 388.6,294.9 388.7,293.4 388.8,293.1 388.8,293.9 388.9,293.7 389,294.6 389.1,295.6 389.1,295.2 389.2,294.9 389.3,294.6 389.3,295.3 389.4,292.7 389.5,294.1 389.5,293.2 389.6,292.8 389.7,293.8 389.8,293.8 389.8,294.2 389.9,294.1 389.9,294 390,293.6 390,293.5 390.1,293 390.2,293 390.3,291.7 390.3,289 390.4,287.9 390.5,289.2 390.5,289.5 390.6,287.2 390.7,286.5 390.8,286.5 390.8,284.4 390.9,284.5 391,284.8 391,284.1 391.1,283.4 391.1,283.7 391.2,283.6 391.3,283.2 391.3,283 391.4,283.8 391.5,283.3 391.5,286.5 391.6,285.2 391.7,284.6 391.8,283 391.8,285.2 391.9,284.1 392,284 392,283 392.1,284.5 392.2,285.7 392.3,284.2 392.3,284.6 392.4,285.1 392.5,286.1 392.5,285.4 392.6,287.2 392.7,285.4 392.8,284.5 392.8,284.3 392.9,283 393,283.1 393,285.8 393.1,285.8 393.2,284.8 393.3,285.6 393.3,284.5 393.4,285.4 393.5,285.8 393.5,285.9 393.5,285.9 393.6,286.4 393.7,287.5 393.8,287 393.8,287.8 393.9,285.9 394,284.8 394,287.6 394.1,288.1 394.2,288.7 394.3,288.1 394.3,288.5 394.4,290 394.5,291.8 394.5,290.4 394.6,288.5 394.7,291.3 394.8,291.7 394.8,291.9 394.9,291.7 395,292.8 395,292.2 395.1,292.3 395.1,292.4 395.2,292.2 395.3,291.8 395.3,291.8 395.4,292 395.5,291.1 395.5,292.8 395.6,290.8 395.7,290.5 395.8,291.1 395.8,289.6 395.9,290.9 396,291.4 396,290.4 396.1,292.5 396.2,291 396.3,290.7 396.3,289.1 396.4,287.6 396.5,288.2 396.5,288.6 396.6,288.5 396.7,289.8 396.8,286.6 396.8,286.8 396.9,285.9 397,289.2 397,288 397.1,287.6 397.2,286.7 397.3,288.5 397.3,287.8 397.4,287.9 397.5,287 397.5,287.6 397.6,287.5 397.6,287.6 397.7,288.1 397.8,288 397.8,287.9 397.9,288.7 398,288.9 398,288.3 398.1,288.5 398.2,288 398.3,289.4 398.3,290.2 398.4,289.5 398.5,291.5 398.5,288.4 398.6,288.9 398.7,291.3 398.8,289.9 398.8,288.1 398.9,291 399,291.1 399,289.3 399.1,291 399.2,289.7 399.2,288.9 399.3,290.1 399.4,290.2 399.5,289.7 399.5,290.4 399.6,290 399.7,291.2 399.7,291.7 399.8,292.3 399.9,292 400,292 400,292.4 400,292.4 400.1,292.8 400.2,293.1 400.2,292.5 400.3,293.4 400.4,292 400.5,293.7 400.5,292.9 400.6,293.9 400.7,294.1 400.7,293.3 400.8,293.8 400.9,292.5 401,293.2 401,294.7 401.1,296.8 401.2,296.3 401.2,294.9 401.3,293.4 401.4,295 401.5,292.9 401.5,293.1 401.6,294.4 401.7,293.3 401.7,295.8 401.8,296.3 401.9,294.8 402,294.4 402,293.5 402.1,293.2 402.2,295.1 402.2,295.9 402.3,296 402.4,296.1 402.5,295.3 402.5,296 402.6,294.7 402.7,295.7 402.7,296.8 402.8,296.8 402.9,296.4 402.9,296.4 403,296.5 403,296.7 403.1,295.9 403.2,295.6 403.2,295.9 403.3,296.8 403.4,295.2 403.5,296 403.5,295.2 403.6,296.8 403.7,296.4 403.7,295.3 403.8,294.6 403.9,295.7 404,295.6 404,293.7 404.1,294.3 404.2,292.8 404.2,292.8 404.3,292.1 404.4,291.8 404.5,292.3 404.5,292 404.6,293.5 404.7,294.2 404.7,293.2 404.8,291.9 404.9,293.4 405,291.2 405,291.2 405.1,292.4 405.2,293.1 405.2,293.6 405.3,292.4 405.4,291.2 405.5,291.3 405.5,292 405.6,291.5 405.7,291.5 405.7,291.6 405.7,291.5 405.8,291.8 405.9,292.1 406,291.3 406,291.2 406.1,291.2 406.2,292.4 406.2,291.2 406.3,291.9 406.4,291.2 406.5,291.2 406.5,292.5 406.6,293.8 406.7,292.1 406.7,292.1 406.8,293.8 406.9,293.2 407,292.9 407,294 407.1,294.1 407.2,295.2 407.2,295.3 407.3,294 407.4,294.1 407.5,294.3 407.5,293.1 407.6,293.1 407.7,295.2 407.7,293.4 407.8,295.4 407.9,295.5 408,295.3 408,295.6 408.1,295.6 408.1,295.6 408.2,295.6 408.2,295.5 408.3,295.3 408.4,296 408.5,296 408.5,294.9 408.6,294.7 408.7,294.3 408.7,294.8 408.8,295.2 408.9,296 409,293.9 409,295.6 409.1,295.5 409.2,294.3 409.2,294.4 409.3,294.1 409.4,294.5 409.4,295.6 409.5,293.3 409.6,295.4 409.7,294.4 409.7,295.9 409.8,295.3 409.9,295.9 409.9,295.4 410,295.7 410.1,294.7 410.2,293.4 410.2,294.5 410.3,294.9 410.4,296 410.4,292.6 410.5,293.2 410.6,294.6 410.7,292.7 410.7,293 410.8,295.6 410.9,295.7 410.9,293.3 411,294.8 411.1,294.7 411.2,294.2 411.2,293.7 411.3,293.4 411.4,293.2 411.4,293.2 411.4,293.2 411.5,293.1 411.6,294 411.7,293.1 411.7,290.8 411.8,291.5 411.9,292.5 411.9,293 412,292.7 412.1,291.6 412.2,293.7 412.2,292.1 412.3,292.9 412.4,292.1 412.4,290.8 412.5,293.1 412.6,289.6 412.7,290.1 412.7,291.7 412.8,291.3 412.9,292.3 412.9,291.7 413,291.1 413.1,293.7 413.2,291.9 413.2,291.3 413.3,290.1 413.4,289.9 413.4,291.4 413.5,291.6 413.6,291.1 413.7,290.6 413.7,291 413.8,290.6 413.8,290.8 413.9,290.3 413.9,289.3 414,288.8 414.1,287.7 414.2,286.5 414.2,288.4 414.3,287.5 414.4,287.3 414.4,285.4 414.5,285.4 414.6,284.7 414.7,284.6 414.7,285.5 414.8,281.9 414.9,280.8 414.9,279.8 415,277.6 415.1,277.8 415.1,277.8 415.2,277.4 415.2,275.8 415.3,275 415.4,274.4 415.4,271.8 415.5,272.2 415.6,272.2 415.7,269.3 415.7,265.1 415.8,266.5 415.9,263.5 415.9,261.3 416,260.2 416.1,258.4 416.2,257.8 416.2,256.2 416.3,255 416.3,254.9 416.4,254.1 416.4,253.4 416.5,253.9 416.6,252.3 416.7,256.8 416.7,252.7 416.8,250.2 416.9,252.1 416.9,251.6 417,249.7 417.1,248.2 417.2,248.6 417.2,248.9 417.3,248.1 417.4,246.2 417.4,245.8 417.5,245.3 417.6,244.4 417.6,244.3 417.7,243.3 417.7,242.6 417.8,242.5 417.9,242.9 417.9,244.2 418,244.1 418.1,242.3 418.2,241.7 418.2,244.8 418.3,240.9 418.4,241.1 418.4,243.5 418.5,241.6 418.6,235.9 418.7,238.6 418.7,237.7 418.8,237.8 418.9,239.6 418.9,238.7 419,237.3 419.1,237.5 419.1,236.7 419.2,236.3 419.2,236.7 419.3,237.7 419.4,238.2 419.4,238.6 419.5,239.8 419.6,239 419.6,238.6 419.7,244.1 419.8,243.6 419.9,244.4 419.9,245 420,246.1 420.1,247 420.1,247.9 420.2,248.3 420.3,249.7 420.3,250.1 420.4,250.4 420.4,250 420.5,249.9 420.6,252 420.6,252 420.7,251.3 420.8,253.1 420.9,251.5 420.9,253.2 421,250.1 421.1,252.4 421.1,253.1 421.2,255.7 421.3,257.5 421.4,255.4 421.4,259.2 421.5,257 421.6,254.1 421.6,253.8 421.7,258.9 421.8,258.9 421.9,259 421.9,259.6 422,259.9 422,259.6 422.1,258.8 422.1,259.5 422.2,257.8 422.3,253.5 422.4,256 422.4,254.6 422.5,253.8 422.6,256.3 422.6,253.5 422.7,254.5 422.8,252.2 422.9,250.2 422.9,250.4 423,249.2 423.1,248.9 423.1,248.5 423.1,249 423.2,249.8 423.3,250.6 423.4,250.5 423.4,252.3 423.5,251.7 423.6,253.2 423.6,251.3 423.7,252.9 423.8,254.3 423.9,253 423.9,253.6 424,254 424.1,256.5 424.1,255.7 424.2,257.1 424.3,258.2 424.4,258.1 424.4,258.2 424.4,258.7 424.5,260.2 424.6,260.9 424.6,263 424.7,264.3 424.8,265.3 424.9,265.2 424.9,265.4 425,266.6 425.1,268.2 425.1,270.1 425.2,271.4 425.3,271.4 425.4,272.7 425.4,274.1 425.5,273.7 425.6,275.3 425.6,276.6 425.7,277.8 425.7,277.8 425.8,278.1 425.9,278.1 425.9,279.3 426,279.9 426.1,278.1 426.1,279.6 426.2,279 426.3,282.7 426.4,281.5 426.4,281.4 426.5,282.3 426.6,282.6 426.6,283.1 426.7,284.1 426.8,284.1 426.8,284.2 426.9,284.2 426.9,283.4 427,283.7 427.1,283.3 427.1,283.2 427.2,280.8 427.3,281.6 427.4,281 427.4,279.2 427.5,281.9 427.6,280.2 427.6,278.2 427.7,277.7 427.8,278.1 427.9,278.2 427.9,277.1 428,277.2 428.1,277.3 428.1,273.3 428.2,272.7 428.3,272 428.4,272 428.4,271.8 428.5,271.2 428.5,270.9 428.6,270.1 428.6,270.2 428.7,268.8 428.8,268.2 428.8,268.1 428.9,264.5 429,266.8 429.1,266.5 429.1,266.3 429.2,263.4 429.3,262.3 429.3,261.8 429.4,262.5 429.5,262.1 429.6,261.6 429.6,263.8 429.7,263.2 429.8,259.4 429.8,258.1 429.9,259.2 430,257.6 430.1,257 430.1,256.6 430.1,256.6 430.2,256.3 430.3,256.3 430.3,255.2 430.4,254.2 430.5,254.4 430.6,256.7 430.6,255.1 430.7,254.9 430.8,254.3 430.8,252.4 430.9,256.7 431,251.3 431.1,252.3 431.1,254.7 431.2,252 431.3,254.5 431.3,256.4 431.4,253.3 431.5,254 431.6,251.8 431.6,253.8 431.7,253.7 431.8,253.8 431.8,255.8 431.9,254.8 432,255.9 432.1,254.9 432.1,251.3 432.2,252.4 432.3,252.8 432.3,251.3 432.4,252.4 432.5,251.9 432.5,251.8 432.6,252 432.6,252.9 432.7,254 432.8,254.3 432.8,255.4 432.9,252.6 433,258.1 433.1,256.3 433.1,254.4 433.2,256.4 433.3,257.8 433.3,261.1 433.4,260.4 433.5,262.6 433.6,262.4 433.6,265.6 433.7,265.6 433.8,266.3 433.8,266.4 433.8,266.6 433.9,266.9 434,267.9 434.1,269 434.1,267.3 434.2,267.2 434.3,267.4 434.3,267.5 434.4,269 434.5,269.6 434.6,269.4 434.6,272 434.7,273.9 434.8,272.3 434.8,273.2 434.9,274.7 435,275.2 435.1,275.2 435.1,277.4 435.2,278.3 435.3,278.6 435.3,278.6 435.4,279.3 435.4,279.4 435.5,279.3 435.6,279 435.6,279.5 435.7,278.2 435.8,278.6 435.8,278.3 435.9,277 436,277 436.1,275 436.1,275.6 436.2,273.7 436.3,278.6 436.3,279.2 436.4,278.8 436.5,277.3 436.6,277.6 436.6,277.9 436.7,277.5 436.8,277.1 436.8,274.2 436.9,274.9 437,273.7 437.1,272.4 437.1,272.2 437.2,273.5 437.3,273.8 437.3,272.9 437.4,272.9 437.4,272.9 437.5,272.6 437.6,272.1 437.6,271.8 437.7,272.7 437.8,271.3 437.8,269.5 437.9,270.8 438,267.5 438.1,269.4 438.1,271.4 438.2,270.6 438.3,270.9 438.3,270.4 438.4,270.4 438.5,269.3 438.6,267.3 438.6,267.3 438.7,267.3 438.8,269.2 438.8,270.2 438.9,268.6 439,266 439,265 439.1,265.2 439.2,267.6 439.3,266.6 439.3,265.5 439.4,263.8 439.5,265.5 439.5,264.9 439.6,264.1 439.7,263.8 439.8,263.9 439.8,263.1 439.8,263.1 439.9,263.7 440,263.6 440,264.2 440.1,263.5 440.2,262.7 440.3,262.7 440.3,262.7 440.4,263.5 440.5,263.4 440.5,264.3 440.6,265 440.7,262.7 440.8,262.7 440.8,262.7 440.9,262.7 441,262.7 441,263.1 441.1,265.6 441.2,262.7 441.3,263.2 441.3,263.4 441.4,262.7 441.5,263.6 441.5,263.7 441.6,262.9 441.7,262.7 441.8,268.4 441.8,264.8 441.9,262.7 442,262.7 442,263.1 442.1,263.5 442.2,263.8 442.3,263.9 442.3,263.9 442.3,264.1 442.4,263.7 442.5,263.8 442.5,264.2 442.6,266.2 442.7,266.8 442.8,266 442.8,266.4 442.9,267.1 443,270.3 443,267.6 443.1,268.5 443.2,269.4 443.3,267.4 443.3,268.6 443.4,269.2 443.5,268.7 443.5,270.2 443.6,271.2 443.7,271.5 443.8,270.8 443.8,271 443.9,271.2 443.9,271.2 444,270.7 444,270.5 444.1,269.8 444.2,269.6 444.3,268.7 444.3,268.9 444.4,269.3 444.5,266.8 444.5,266.1 444.6,265.1 444.7,263.8 444.8,263.5 444.8,261.2 444.9,263 445,264.8 445,265.1 445.1,264.1 445.2,259.6 445.3,261.8 445.3,258.4 445.4,257.9 445.5,260.4 445.5,256.3 445.6,257 445.7,256 445.8,255 445.8,254.3 445.8,254.2 445.9,254.3 446,255.1 446,256.1 446.1,254.1 446.2,254.2 446.3,254.5 446.3,253.8 446.4,253.8 446.5,255.5 446.5,255.9 446.6,253.8 446.7,255.1 446.8,257.5 446.8,255.6 446.9,255.5 447,260 447,261.2 447.1,256.8 447.2,255.9 447.3,258.7 447.3,257.2 447.4,258.4 447.5,258.6 447.5,260.6 447.6,256.7 447.7,257 447.8,258.8 447.8,261.1 447.9,261.2 448,261.5 448,261.6 448,264.3 448.1,266.5 448.2,268.6 448.3,271.7 448.3,275.5 448.4,277.1 448.5,279.6 448.5,281.4 448.6,283.2 448.7,285.1 448.7,288.3 448.8,290.7 448.9,293.2 449,295.6 449,295.6 449,295.7 449.1,294.9 449.2,295.3 449.2,294.7 449.3,294.1 449.4,293.7 449.5,295.6 449.5,295.8 449.6,294.2 449.7,293.1 449.7,293.9 449.8,293.6 449.9,295.6 450,293 450,291.6 450.1,292.7 450.2,293.2 450.2,293.5 450.3,294.2 450.4,295.7 450.5,293.6 450.5,292.6 450.6,290.9 450.7,292.3 450.7,293.4 450.8,292.5 450.9,293.7 451,292.8 451,293.8 451.1,292.8 451.2,291.5 451.2,291.4 451.3,291.3 451.4,291.5 451.4,291.6 451.5,291.2 451.5,291.3 451.6,290.3 451.7,289.4 451.7,287.7 451.8,288.9 451.9,288.3 452,286.6 452,287.2 452.1,286.8 452.2,283.4 452.2,285 452.3,284.5 452.4,283.3 452.5,282.4 452.5,284.5 452.6,284.6 452.7,284.2 452.7,280.6 452.8,279.7 452.9,280 453,278.9 453,278.6 453,278.5 453.1,279.1 453.2,279.7 453.2,279.9 453.3,280 453.4,279.4 453.5,279.2 453.5,280.7 453.6,279.6 453.7,281.8 453.7,280.5 453.8,279.8 453.9,282.4 454,281.6 454,282.4 454.1,281.5 454.2,279.1 454.2,281.9 454.3,280.6 454.4,283.4 454.5,281.2 454.5,280.2 454.6,282.7 454.7,283.8 454.7,284 454.8,282.5 454.9,284.7 455,282.8 455,283.5 455.1,283.6 455.2,284.3 455.2,285.6 455.3,285.2 455.4,285.7 455.5,285.9 455.5,285.9 455.5,285.6 455.6,285.7 455.7,285.6 455.7,286.2 455.8,284.3 455.9,286.5 456,287.4 456,286.7 456.1,285.1 456.2,286.3 456.2,286.1 456.3,287.4 456.4,287.1 456.5,288.1 456.5,287.1 456.6,289 456.7,285.4 456.7,285.7 456.8,287.6 456.9,286 457,288.1 457,286.6 457.1,287.7 457.2,287 457.2,287.3 457.3,288.2 457.4,288.3 457.5,288 457.5,290.8 457.6,289.3 457.7,288.3 457.7,289.2 457.8,289.3 457.9,289.2 457.9,289.1 458,289.2 458,289.6 458.1,290.2 458.2,289.8 458.2,289.9 458.3,286.4 458.4,287.9 458.4,291.1 458.5,288.3 458.6,288.8 458.7,289.9 458.7,290.7 458.8,292.2 458.9,289 458.9,289.9 459,291.2 459.1,289.3 459.2,290.1 459.2,292.5 459.3,292.8 459.4,292.1 459.4,288.4 459.5,289.9 459.6,291.1 459.7,290.8 459.7,291 459.8,292.8 459.9,292.2 459.9,290.7 460,291.5 460.1,291.2 460.2,291.2 460.2,291.5 460.3,292.5 460.4,292.4 460.4,290.9 460.5,291.6 460.6,292.3 460.7,292 460.7,292.5 460.8,292.4 460.8,292.4 460.9,290.9 460.9,289.4 461,287.9 461.1,285 461.2,283.5 461.2,280 461.3,277.1 461.4,275.9 461.4,273.8 461.5,272.9 461.5,272.8 461.6,272.8 461.7,272.2 461.7,272.6 461.8,273.2 461.9,272.4 461.9,273.1 462,269.5 462.1,269.6 462.2,272.7 462.2,274.2 462.3,272.4 462.4,271.2 462.4,268.9 462.5,270.4 462.6,271.4 462.7,268.3 462.7,270.2 462.8,270.6 462.9,270.6 462.9,268.1 463,269.7 463.1,267 463.2,270.5 463.2,269.5 463.3,267.6 463.4,269.3 463.4,269.2 463.5,268.1 463.6,268 463.6,268 463.7,267.3 463.7,267.1 463.8,264.1 463.9,265.2 463.9,264 464,263.1 464.1,260.6 464.2,261.4 464.2,258.8 464.3,257.6 464.4,257.7 464.4,256.4 464.5,258.4 464.6,256 464.7,255.5 464.7,255 464.7,255 464.8,254.2 464.9,253.6 464.9,252 465,250.4 465.1,249.7 465.2,250.3 465.2,249.6 465.3,246.4 465.4,241.7 465.4,247.4 465.5,246.5 465.6,244.2 465.7,242.8 465.7,240.2 465.8,238.3 465.9,238 465.9,237.3 466,236.5 466,236.3 466.1,236.8 466.2,238.2 466.2,238.6 466.3,239.8 466.4,237.3 466.4,240 466.5,242 466.6,241.1 466.7,240.5 466.7,245 466.8,244.9 466.9,248 466.9,248 467,250.5 467.1,250.3 467.2,248.7 467.2,251.3 467.3,252.6 467.4,255 467.4,255.1 467.5,256 467.6,257.5 467.7,258.2 467.7,258.3 467.7,258.6 467.8,258.6 467.9,258.6 467.9,258.6 468,258.6 468.1,258.1 468.2,257.9 468.2,258.6 468.3,258.6 468.4,257.2 468.4,256.4 468.5,256.6 468.6,257 468.6,254.8 468.7,252.4 468.8,255.4 468.9,253.1 468.9,255.5 469,256 469.1,257.9 469.1,258.6 469.2,257.4 469.3,255.3 469.4,254.1 469.4,254.4 469.5,255 469.6,254.8 469.6,255 469.6,254.4 469.7,254 469.8,252.8 469.9,252.1 469.9,250.2 470,249.2 470.1,246 470.1,247.8 470.2,250.6 470.3,248.5 470.4,247.6 470.4,244.2 470.5,247.2 470.6,243.4 470.6,244.7 470.7,243.2 470.8,240.1 470.9,242.4 470.9,240.7 471,239.9 471.1,239.7 471.1,238.1 471.2,236.3 471.3,236.9 471.4,234.9 471.4,234.5 471.5,233 471.6,231.7 471.6,231.7 471.7,231.4 471.7,231.5 471.8,232.4 471.9,231.5 471.9,232.7 472,231 472.1,231 472.1,232.2 472.2,231 472.3,231 472.4,234.6 472.4,236.4 472.5,237 472.6,236.1 472.6,242.2 472.7,239.9 472.8,238.1 472.9,242.9 472.9,242.8 473,241.1 473.1,243.2 473.1,242.7 473.2,243.2 473.3,243.4 473.3,243.6 473.4,243.9 473.4,244.7 473.5,244.6 473.6,244.9 473.6,247.7 473.7,247.3 473.8,248.3 473.9,250.3 473.9,250.5 474,248 474.1,251.6 474.1,253.8 474.2,255 474.3,257.2 474.4,256.2 474.4,257.1 474.5,259.3 474.6,257.2 474.6,259.9 474.7,260.6 474.8,260 474.9,260.6 474.9,260.6 475,260.7 475,260.6 475.1,260.4 475.1,260.2 475.2,259.7 475.3,260.9 475.4,260.3 475.4,257.6 475.5,258.4 475.6,258.8 475.6,256.2 475.7,255.6 475.8,255.2 475.9,254.4 475.9,255.5 476,256.8 476.1,258.6 476.1,257.7 476.2,256.7 476.3,255.8 476.4,255.1 476.4,252.9 476.5,252.6 476.6,251.9 476.6,251.8 476.6,250.9 476.7,249.7 476.8,248.6 476.9,246.2 476.9,247 477,245.9 477.1,245.1 477.1,244.6 477.2,244.6 477.3,241.3 477.4,240.5 477.4,237.3 477.5,235.5 477.6,235.4 477.6,237 477.7,235.6 477.7,235.5 477.8,235 477.9,233.5 477.9,234.1 478,234.7 478.1,233.3 478.1,235.5 478.2,231.4 478.3,226.2 478.3,226.4 478.4,223.6 478.5,219.8 478.6,217.8 478.6,224.7 478.7,219.7 478.8,218.4 478.8,216.5 478.9,216 479,214.9 479,214.4 479.1,214.8 479.1,215.4 479.2,216.7 479.3,219.4 479.3,225.1 479.4,226.8 479.5,229.9 479.6,228.9 479.6,228.2 479.7,226.2 479.8,229.5 479.8,226.9 479.9,231 480,237.1 480.1,237.5 480.1,239.3 480.2,239.5 480.3,240.6 480.3,242 480.3,241.7 480.4,241.6 480.5,242.4 480.6,240 480.6,238.8 480.7,238.2 480.8,237.1 480.8,234.5 480.9,235.9 481,236.6 481.1,236.4 481.1,232.6 481.2,233.2 481.3,229.5 481.3,233.4 481.4,230.3 481.5,230.3 481.6,229.6 481.6,228.9 481.7,227.8 481.8,226.8 481.8,228.9 481.9,227.8 482,227.4 482,227.1 482.1,225.7 482.1,224.7 482.2,222.9 482.3,223.5 482.3,221.9 482.4,219.8 482.5,216.7 482.6,216 482.6,217.1 482.7,208.5 482.8,209.6 482.8,208.6 482.9,207.6 483,205.3 483.1,205.3 483.1,204.6 483.1,203.4 483.2,201.2 483.3,197.4 483.3,196.1 483.4,193.5 483.5,193 483.6,192 483.6,191.6 483.6,177.4 483.6,176.1 483.7,176.5 483.8,174.6 483.8,169.3 483.9,166.9 484,164.4 484.1,164.2 484.1,161.5 484.2,158.6 484.3,165 484.3,160.5 484.4,156.8 484.5,154.8 484.6,153.2 484.6,152.9 484.7,150.3 484.7,149.8 484.8,147.8 484.8,147.5 484.9,148.9 485,152.1 485.1,148.2 485.1,139.3 485.2,144.1 485.3,140.7 485.3,134.4 485.4,136 485.5,142.2 485.6,143.1 485.6,140.8 485.7,136.3 485.8,138.1 485.8,135.2 485.9,135.1 485.9,133.8 486,135.1 486.1,134.9 486.1,136 486.2,134 486.3,132.1 486.3,131.9 486.4,123.2 486.5,131.3 486.6,133.4 486.6,128.5 486.7,127.9 486.8,128.5 486.8,132 486.9,128.5 487,126.1 487.1,124.3 487.1,123.5 487.2,123.8 487.2,123.2 487.3,122.4 487.3,122.1 487.4,123.6 487.5,123.4 487.6,122.6 487.6,123.3 487.7,121.2 487.8,119.1 487.8,120.1 487.9,110.7 488,119.6 488.1,111.5 488.1,117.3 488.2,115.5 488.3,119.1 488.3,115.3 488.4,109.6 488.5,114.6 488.5,112.5 488.6,111.1 488.7,110.1 488.8,109.4 488.8,109.1 488.8,109.6 488.9,107.9 489,107.9 489,108.6 489.1,115.7 489.2,113.6 489.3,110.3 489.3,114.8 489.4,110.6 489.5,109.5 489.5,109.9 489.6,107.9 489.7,111 489.8,111.6 489.8,108.6 489.9,107.9 490,108 490,114 490.1,108.2 490.2,107.9 490.3,108.6 490.3,107.9 490.4,108.3 490.4,108.3 490.5,109.7 490.5,111.8 490.6,113.3 490.7,117.7 490.8,119 490.8,119.2 490.9,121.8 491,127.3 491,130.4 491.1,131.9 491.2,133 491.2,133.5 491.3,135.3 491.3,139.4 491.4,144.6 491.5,145.4 491.5,154.8 491.6,158.2 491.7,161.8 491.7,162.8 491.8,167.2 491.8,172.1 491.9,179 492,184.3 492,201.4 492,200.8 492.1,198.8 492.2,195.8 492.3,197.1 492.3,192.5 492.4,193.2 492.5,190.4 492.5,188.8 492.5,188.2 492.6,187.8 492.7,185.8 492.8,181.7 492.8,182 492.9,188 493,177.2 493,179.2 493.1,177.2 493.2,175.4 493.3,173.7 493.3,172.5 493.3,172.5 493.4,178.1 493.5,181.6 493.5,188.7 493.6,191.9 493.7,194.9 493.7,195.6 493.8,197.9 493.8,199.3 493.9,202.2 494,201.9 494,205.7 494.1,205.8 494.2,212.6 494.3,206.3 494.3,211.2 494.4,211.3 494.5,211.1 494.5,209.5 494.6,212.8 494.7,210.2 494.8,211.4 494.8,215.6 494.9,216 495,217.6 495,215.5 495,206.2 495.1,196.8 495.2,187.4 495.3,177.3 495.3,174.1 495.3,174.5 495.4,176.7 495.5,179.2 495.5,182 495.6,181.3 495.7,179.3 495.8,173.7 495.8,180.1 495.9,182.3 496,181 496,182.2 496.1,182.2 496.1,182.4 496.2,183.6 496.3,183.7 496.3,178.9 496.4,179.4 496.5,179.7 496.5,183.9 496.6,179.4 496.7,179.7 496.8,177.5 496.8,180.8 496.9,182.4 497,186.9 497,187.7 497.1,185.2 497.2,184.7 497.3,183.9 497.3,183.7 497.4,188.5 497.5,177.2 497.5,180.8 497.6,182.4 497.7,182.8 497.7,182.2 497.8,183.2 497.8,186.1 497.9,186.7 498,183.6 498,187.2 498.1,186.1 498.2,194.9 498.2,192.9 498.3,204.4 498.4,202.7 498.5,199.4 498.5,201.1 498.6,201.8 498.7,206.7 498.7,210.1 498.8,210.4 498.9,211.1 498.9,210.6 499,210.5 499,211.5 499.1,207.9 499.2,211.5 499.2,211.5 499.3,202.4 499.4,199.5 499.5,199.9 499.5,207.8 499.6,204.4 499.7,203.9 499.7,207.1 499.8,205.3 499.9,204.8 500,201.9 500,206.8 500.1,199.9 500.2,206.1 500.2,200.8 500.3,198.3 500.4,199.3 500.5,198.4 500.5,198.1 500.5,198.2 500.6,196.6 500.7,196.1 500.7,200.5 500.8,197 500.9,200.6 501,198.9 501,209.1 501.1,203.5 501.2,196.8 501.2,194.9 501.3,195.4 501.4,200.4 501.5,201.8 501.5,206.9 501.6,205.2 501.7,204.6 501.7,205.5 501.8,203.9 501.9,205.4 502,208.4 502,209.6 502.1,204.1 502.2,196.6 502.2,199.5 502.3,204.8 502.4,199.6 502.5,203.8 502.5,206.1 502.6,206.2 502.6,205.7 502.7,204.4 502.7,203.9 502.8,198.8 502.9,198.5 503,194.9 503,188.8 503.1,187.1 503.1,187.5 503.2,188.6 503.2,187.7 503.3,190.6 503.4,187.4 503.5,192 503.5,200.4 503.6,199.7 503.7,198 503.7,207.2 503.8,199.1 503.9,205.6 504,203.4 504,205.1 504.1,206 504.2,207.2 504.2,207.9 504.2,207.9 504.3,207.8 504.4,209.7 504.5,209.8 504.5,206.4 504.6,206.4 504.7,206.9 504.7,210.4 504.8,213.1 504.9,214 505,211.3 505,213.8 505.1,208.8 505.2,200.8 505.2,210.9 505.3,207.7 505.4,210.1 505.5,210.5 505.5,218.5 505.6,215.9 505.7,219.3 505.7,219.5 505.8,220.2 505.8,220.9 505.9,220.8 506,221.2 506,221.3 506.1,221.3 506.2,221.3 506.2,221.3 506.3,221.3 506.4,221.3 506.5,219.5 506.5,216.5 506.6,221.3 506.7,215.2 506.7,219.9 506.8,221.3 506.9,221.3 507,216.9 507,218.5 507.1,217.8 507.2,215 507.2,218.4 507.3,218 507.4,217.2 507.5,221.3 507.5,216.5 507.6,220.8 507.7,217.9 507.7,221.2 507.8,220.9 507.9,221.3 507.9,217.1 508,217.2 508.1,217.7 508.2,219.8 508.2,220.4 508.3,220.1 508.3,219.7 508.4,219 508.4,215.1 508.5,209.8 508.6,210 508.7,209.9 508.7,205.7 508.8,202.6 508.9,211.4 508.9,207.9 509,202.1 509.1,217.8 509.2,212.9 509.2,208.4 509.3,209.9 509.4,205.7 509.4,208.3 509.5,204.6 509.6,204.6 509.6,204.3 509.7,202.3 509.7,204.2 509.8,197.7 509.9,195.7 509.9,198 510,200.2 510.1,202.5 510.2,199.3 510.2,206.9 510.3,195.3 510.4,193.6 510.4,194.5 510.5,190.1 510.6,188.5 510.7,187.5 510.7,187.1 510.7,186.9 510.8,186.7 510.9,186.7 510.9,187.9 511,186.7 511.1,196.9 511.2,201.8 511.2,200.6 511.3,193.7 511.4,189.7 511.4,198 511.5,195.9 511.6,197.4 511.7,191.8 511.7,199.3 511.8,192.8 511.9,195.4 511.9,187.6 512,191.8 512.1,197.7 512.2,197.2 512.2,197.9 512.3,199.7 512.3,199.8 512.4,200.4 512.4,198 512.5,200.7 512.6,202.9 512.7,196.7 512.7,194.2 512.8,204.3 512.9,198.9 512.9,199.5 513,206 513.1,204.2 513.2,207.7 513.2,203 513.3,207.2 513.4,212.7 513.4,211.5 513.5,199.8 513.6,209.2 513.7,210.1 513.7,208.2 513.8,213.2 513.9,210.4 513.9,212.9 514,212.8 514,213.1 514.1,212.2 514.2,208.4 514.2,209.2 514.3,210.3 514.4,211.6 514.4,213.2 514.5,205.4 514.6,208.4 514.7,210.2 514.7,205.7 514.8,200.5 514.9,198.1 514.9,205 515,207.3 515.1,199.8 515.2,194.3 515.2,204.2 515.3,195.8 515.4,199.1 515.4,197.6 515.5,196.7 515.6,198.1 515.6,198.1 515.7,198.9 515.7,202.2 515.8,199.5 515.9,201.7 515.9,203.6 516,196.9 516.1,192.4 516.2,203.2 516.2,196.9 516.3,196.4 516.4,194.8 516.4,194.9 516.5,192.5 516.6,198.3 516.7,202.9 516.7,196.2 516.8,190.4 516.9,193.1 516.9,190.4 517,190.4 517.1,198.9 517.2,207.9 517.2,201.1 517.3,191.3 517.4,196.8 517.4,190.4 517.5,190.7 517.6,195.8 517.7,194.9 517.7,194.1 517.7,193.6 517.8,193.9 517.9,193.4 517.9,191.4 518,193.7 518.1,190.4 518.1,190.4 518.2,192.5 518.3,190.4 518.4,190.4 518.4,190.4 518.5,190.4 518.6,190.4 518.6,191.9 518.7,190.8 518.8,191.6 518.8,190.8 518.9,190.9 518.9,189.3 519,188.9 519.1,193.9 519.1,206.6 519.2,194.7 519.3,191 519.4,197.2 519.4,200.7 519.5,196.8 519.6,199.9 519.6,194.8 519.7,199.7 519.8,204.8 519.9,206.7 519.9,205.8 520,206.2 520,205.2 520.1,203.2 520.1,200.4 520.2,193.9 520.3,192.6 520.4,193.7 520.4,183.6 520.5,176.3 520.6,178.9 520.6,176.5 520.7,173.8 520.8,169.4 520.8,169.2 520.9,165 520.9,159.1 521,153.4 521.1,149.4 521.1,145.4 521.2,151.8 521.3,136.4 521.4,136.4 521.4,131 521.5,137.4 521.6,130.4 521.6,124 521.7,121.4 521.8,118.1 521.8,118 521.9,120.9 521.9,122.5 522,128.6 522.1,130.4 522.1,130 522.2,125 522.3,117.7 522.4,124.2 522.4,123.2 522.5,127.6 522.6,124.3 522.6,118.5 522.7,117.7 522.8,125.8 522.9,133.7 522.9,125.9 523,127.5 523.1,130.4 523.1,125.9 523.2,126.7 523.2,127 523.3,129 523.4,131 523.4,130.5 523.5,124.8 523.6,130 523.6,141.3 523.7,137.7 523.8,136.7 523.9,144.7 523.9,136 524,142.7 524.1,149.7 524.1,144.4 524.2,144.6 524.3,151.3 524.4,153.1 524.4,154.8 524.5,157.1 524.5,157.9 524.6,156.7 524.6,154.5 524.7,155.3 524.8,158.3 524.9,158.3 524.9,150.1 525,157.1 525.1,156.7 525.1,150.7 525.2,151.3 525.3,153.1 525.4,158.3 525.4,142.1 525.5,146.3 525.6,142.2 525.6,139.6 525.7,147.2 525.8,146.4 525.9,134.7 525.9,134.8 526,135.9 526.1,132.6 526.1,133.9 526.2,133.5 526.2,133.2 526.3,133.4 526.4,138.7 526.4,134.8 526.5,130.2 526.6,142.4 526.6,130.4 526.7,125.8 526.8,121.7 526.9,132.1 526.9,131.1 527,131.8 527.1,129.6 527.1,126.3 527.2,121.7 527.3,121.7 527.4,125.3 527.4,125.3 527.5,132.7 527.6,122.8 527.6,121.7 527.7,121.7 527.8,122.2 527.8,122.1 527.8,123.5 527.9,127.9 528,126.2 528.1,129.9 528.1,121.7 528.2,121.7 528.3,121.7 528.3,125.1 528.4,128.6 528.5,124.8 528.6,136.2 528.6,136.6 528.7,131.3 528.8,131.1 528.8,128.5 528.9,134.1 529,140 529.1,138.1 529.1,138.4 529.1,139.5 529.2,143.1 529.3,145.9 529.3,145.7 529.4,137.7 529.5,142.2 529.6,156.7 529.6,153.7 529.7,159.5 529.8,155.9 529.8,148.3 529.9,160.4 530,164.4 530.1,164.4 530.1,166.9 530.2,169.7 530.2,170.1 530.3,168.3 530.3,165.5 530.4,156.1 530.5,156.9 530.6,153.6 530.6,148.9 530.7,153.8 530.8,149.5 530.8,150.4 530.9,149.2 531,145 531,143.2 531.1,142.8 531.1,144 531.2,142.9 531.3,142.8 531.3,142.8 531.4,145.4 531.5,145.6 531.6,148.3 531.6,142.8 531.7,142.8 531.8,142.8 531.8,142.8 531.9,142.8 532,142.8 532.1,142.8 532.1,145.8 532.2,147.2 532.3,145.5 532.3,143.2 532.3,143.6 532.4,146.7 532.5,147.4 532.6,151.2 532.6,147.3 532.7,148.7 532.8,154.8 532.8,160 532.9,158.4 533,159.5 533,159.8 533.1,160.1 533.1,160.6 533.2,158 533.3,159.7 533.3,158.5 533.4,161.1 533.5,168.7 533.6,171.6 533.6,168.2 533.7,166.3 533.8,166.6 533.8,167 533.9,167.7 534,167.6 534,168.1 534.1,166.9 534.1,170.2 534.2,176.5 534.3,174.3 534.3,164.8 534.4,177.3 534.5,172.4 534.6,159.1 534.6,166.5 534.7,175.3 534.8,177.1 534.8,180.8 534.9,179.3 535,177.9 535.1,176.8 535.1,178.2 535.1,178.3 535.2,179.8 535.3,177.7 535.3,177.3 535.4,181.6 535.5,171.7 535.6,169.7 535.6,178.5 535.7,183.1 535.8,183.2 535.8,182.6 535.9,185.5 535.9,185.5 536,186.7 536.1,187.6 536.1,189.5 536.2,192.6 536.3,189.7 536.3,195.7 536.4,199.2 536.5,197.1 536.6,199 536.6,196.6 536.7,198 536.7,198.1 536.8,197.8 536.8,197.8 536.9,196.9 537,196.1 537.1,198 537.1,203.7 537.2,199.1 537.3,199.8 537.3,192.3 537.4,197.5 537.5,204.5 537.5,205.4 537.6,204.2 537.7,198.9 537.8,195 537.8,198 537.9,193.1 538,192.7 538,201.9 538.1,198.7 538.2,203.8 538.3,200.3 538.3,201.4 538.3,201.4 538.4,201.6 538.5,200.5 538.5,201.9 538.6,202.4 538.7,201.5 538.8,205.8 538.8,212.5 538.9,205.2 539,209.9 539,208.2 539.1,207.3 539.2,214.9 539.3,204.4 539.3,206.4 539.4,207 539.5,209.4 539.5,209.5 539.5,213.1 539.6,213.8 539.7,217.8 539.8,219.9 539.8,215.4 539.9,217.8 540,224.4 540,220.8 540.1,220.3 540.2,222 540.3,214.8 540.3,215.8 540.4,221.7 540.5,224.7 540.5,222.3 540.6,224.1 540.7,225.8 540.8,227 540.8,227.4 540.8,227.3 540.9,227.2 541,224 541,222.2 541.1,225.3 541.2,218.9 541.3,224.1 541.3,221.9 541.4,220.4 541.5,225.6 541.5,221.8 541.6,219.6 541.7,219.3 541.8,222.1 541.8,227.8 541.9,217.8 542,220.7 542,220.7 542.1,224.4 542.2,221.5 542.3,217.5 542.3,221.5 542.4,220.8 542.4,220.9 542.5,219.3 542.5,217.4 542.6,216.8 542.7,220 542.8,221.8 542.8,216.3 542.9,218.6 543,215.2 543,215.8 543.1,215.8 543.2,217.5 543.3,212.2 543.3,212.2 543.4,213.3 543.5,212.8 543.5,208.2 543.6,217.7 543.7,210.7 543.8,212.4 543.8,210.5 543.9,211 544,207.1 544,207.9 544,207.9 544.1,206.5 544.2,206.9 544.3,212.7 544.3,211.2 544.4,203.2 544.5,202.9 544.5,211.2 544.6,201.8 544.7,203.2 544.8,203.2 544.8,214.7 544.9,207 545,211.7 545,203.8 545.1,201.8 545.2,207.5 545.3,208.1 545.3,201.8 545.4,204.1 545.5,205 545.5,202.8 545.6,203.2 545.7,203 545.7,202.9 545.8,202.1 545.8,201.8 545.9,201.8 546,201.8 546,201.8 546.1,201.8 546.2,201.8 546.3,201.8 546.3,201.8 546.4,204.6 546.5,212.4 546.5,212.2 546.6,201.8 546.7,207.3 546.8,205 546.8,202.9 546.9,201.8 547,201.8 547,206.1 547.1,204.3 547.2,202.1 547.3,201.9 547.3,202.2 547.3,203.8 547.4,208.9 547.5,208.3 547.5,211.6 547.6,214.4"/>
<rect class="k" x="65.5" y="65.5" width="501" height="253"/>
<text class="t" x="914.1" y="40.1">EGY versus S&amp;P500 stock return time-series</text>
<path class="k" d="M683.5 318.5H1136.5M683.5 318.5v8M774.5 318.5v8M864.5 318.5v8M955.5 318.5v8M1045.5 318.5v8M1136.5 318.5v8M665.5 72.5V288.5M665.5 288.5h-8.5M665.5 252.5h-8.5M665.5 216.5h-8.5M665.5 180.5h-8.5M665.5 144.5h-8.5M665.5 108.5h-8.5M665.5 72.5h-8.5"/>
<text class="a" x="683.4" y="347.5">2000</text>
<text class="a" x="774" y="347.5">2005</text>
<text class="a" x="864.7" y="347.5">2010</text>
<text class="a" x="955.3" y="347.5">2015</text>
<text class="a" x="1046" y="347.5">2020</text>
<text class="a" x="1136.6" y="347.5">2025</text>
<text class="a" transform="translate(646.7 288.9) rotate(-90)">-0.6</text>
<text class="a" transform="translate(646.7 252.9) rotate(-90)">-0.4</text>
<text class="a" transform="translate(646.7 216.9) rotate(-90)">-0.2</text>
<text class="a" transform="translate(646.7 180.9) rotate(-90)">0.0</text>
<text class="a" transform="translate(646.7 144.9) rotate(-90)">0.2</text>
<text class="a" transform="translate(646.7 108.9) rotate(-90)">0.4</text>
<text class="a" transform="translate(646.7 72.9) rotate(-90)">0.6</text>
<polygon fill="#0000ff" shape-rendering="crispEdges" points="683.3,180.6 683.3,161.1 685,161.1 685.8,166 686.2,92.9 687.9,92.9 688.2,146.5 689.5,128.6 690.3,88 691.6,88 691.9,174.1 692.3,175.8 693.2,175.8 693.6,83.1 694.7,83.1 695.2,140 696,96.1 696.8,96.1 697.3,74.2 698.8,74.2 699.2,107.5 700.2,87.2 701.7,87.2 702.2,119.7 703.3,99.4 704.6,99.4 705.1,126.2 706.1,126.2 706.6,154.6 707.4,140 708.2,134.3 709.5,134.3 710.1,157.1 711.4,151.4 713.1,140.3 714.7,140.3 715.5,156.2 717.1,165.2 718.1,127 720.7,127.8 721.2,146.5 722.5,147.3 723.1,156.2 725.2,151.1 728.5,151.1 729,141.1 730.8,141.1 731.3,163.6 734.2,168.4 735,161.9 736.6,161.9 737.1,168.4 739.9,168.4 741.5,172.5 742.3,166 744.8,165.2 745.6,162.8 746.7,162.8 747.4,172.5 749.6,174.9 750.1,151.1 751.7,151.1 752.2,164.4 754.2,158.2 755.8,158.2 757.8,166 758.6,175.8 761,167.6 763.9,167.3 764.2,140.3 765.9,140.3 766.2,166 767.5,165.2 769.5,166 772.4,169.2 773.7,174.1 774.2,160.3 776,160.3 776.4,172.5 778.1,168.4 781.8,168.4 782.5,172.5 785.4,173.3 787.8,170.1 788.6,166 790.2,166 791.9,168.4 794.3,166 795.5,168.4 797.6,167.6 798.4,162.3 800.5,162.3 801.3,168.4 803.2,168.4 805.7,169.2 808.1,168.4 809.4,175.8 811.4,173.3 813.8,168.4 815.4,168.4 817.1,173.3 819.5,172.5 821.9,169.2 823.6,169.2 824.4,172.5 826,170.9 826.3,162.3 828,162.3 828.4,170.9 830.9,166 832.5,164.7 834.1,166 835.8,168.4 838.2,158.7 839.8,157.9 841.4,151.1 843.1,151.1 843.5,141.1 845.5,141.1 846.3,151.4 847.9,152.2 848.8,159.5 849.2,154.9 850.9,154.9 851.7,168.4 854.4,167.6 856.1,163.1 857.7,163.1 858.8,168.4 860,170.7 861.6,169.9 862.4,168.2 863.6,169.9 864.5,174.8 865.7,170.7 866.8,169.9 868.1,171.5 868.9,167.4 870.1,166.3 871.4,166.6 872.7,169.9 873.8,171.5 875.4,170.2 877.1,171.5 878.2,166.3 879.8,166.3 880.8,171.5 882.8,173.1 884.4,172.3 886,173.9 888,173.1 888.9,169.1 890.9,168.2 892.2,158.2 893.8,158.2 894.5,162.6 895.4,157.7 896.7,157.7 897.4,161.8 898.2,156.9 899.6,156.9 900.1,169.9 901.9,171.5 902.2,149.1 903.9,149.1 904.4,171.5 906.3,171.5 907.1,158.2 908.4,158.2 909.1,168.2 910,162.1 911.7,162.1 912.3,165.8 913.6,165.8 914.4,171.5 916.1,167.4 917.7,167.4 918.5,171.5 920.5,171.5 921.4,167.4 922.6,167.4 923.4,171.5 924.7,167.4 925.8,167.4 926.3,172.3 927.4,169.9 928.6,170.2 929.9,173.1 932.3,172.3 933.1,153.1 934.8,153.1 935.2,165 936.4,165 937.2,171.5 938.8,171.5 939.1,148.8 940.8,148.8 941.2,171.5 943.7,170.7 944.5,172.3 946.9,171.5 947.4,161.8 948.7,161.8 949.4,171.5 950.4,164.2 951.8,164.2 952.6,168.2 953.3,159.3 954.7,159.3 955.2,164.2 956.7,164.2 957.5,171.5 958.8,171.5 959.5,154.1 960.8,154.1 961.4,171.5 963.2,171.5 964,150.1 965.6,150.1 966.3,161.8 967.2,155.2 968.5,155.2 969.2,165 970.5,165.8 972.1,168.2 972.6,154.1 973.8,154.1 974.6,160.9 976.2,160.9 977,152.8 978.3,152.8 979.1,162.6 981.1,171.5 982.2,165.8 983.5,165.8 983.8,149.1 985.1,149.1 985.6,166.6 987.6,171.5 989.2,171.5 989.5,155.2 990.8,155.2 991.3,158.2 992.4,158.2 993.2,171.5 994.9,171.5 995.7,165 997.3,165 998.1,169.1 999.8,174.8 1001.4,172.3 1003,171.5 1003.8,168.2 1005.4,161.4 1007.1,161.4 1007.5,164.2 1009.2,164.2 1009.8,168.2 1011.9,168.2 1012.8,171.5 1014,171.5 1014.4,130.1 1016.3,130.1 1017,165 1018.4,155.2 1019.2,152 1020.5,152 1021.2,170.7 1023.3,170.7 1024.1,165.8 1025.8,165.8 1026.1,158.2 1027.7,158.2 1028.3,160.1 1029.8,160.1 1030.6,170.7 1032.2,170.7 1033.1,163.4 1034.7,163.4 1035.2,166.6 1037.1,166.6 1038.4,161.4 1040,161.4 1040.7,166.6 1042,166.6 1042.8,171.5 1043.6,167.4 1045.2,164.2 1046.9,164.2 1047.7,171.5 1048.5,145.2 1049.8,145.2 1050.5,165 1052.1,143.1 1053.7,143.1 1054.3,165 1054.6,170.7 1057,170.7 1057.8,160.1 1059.9,160.1 1060.2,130.1 1061.9,130.1 1062.4,157.7 1064.3,156.9 1065.9,157.7 1066.4,171.5 1068,171.5 1068.4,163.4 1070,163.4 1071.6,165.8 1073.2,166.6 1074.5,171.5 1077.3,171.5 1078.1,155.2 1079.8,155.2 1080.2,171.5 1081.7,171.5 1082.2,151.2 1083.8,151.2 1084.3,164.2 1085.9,164.2 1086.6,171.5 1088.7,171.5 1089,154.1 1090.6,154.1 1091.1,163.4 1092.8,163.4 1093.6,171.5 1094.4,165 1096,165 1096.8,171.5 1098.4,171.5 1100.1,169.9 1102.5,169.9 1103,161.8 1104.6,161.8 1105.1,171.5 1107.4,172.3 1109.8,172.3 1110.6,166.3 1112.2,166.3 1113.1,169.9 1114.7,169.9 1115.5,165 1116.8,165 1117.5,172.3 1119.6,172.3 1120.4,148.3 1121.7,148.3 1122.3,172.3 1124.4,172.3 1125.2,169.9 1126.9,169.9 1128.2,165.8 1129.8,165.8 1130.5,172.3 1133.4,173.1 1135,173.9 1137.4,173.1 1138.2,156.4 1139.9,156.4 1140.7,161.8 1141.8,161.8 1142.5,172.3 1143.9,172.3 1144.8,171.5 1146.4,170.2 1148,170.2 1148,180.9 1148,180.9 1148,187.8 1146.4,188.6 1143.9,188.6 1143.1,194.2 1141.8,194.2 1141.2,198.3 1138.7,198.3 1138.2,191.8 1136.3,191 1135.8,194.2 1134.2,194.2 1133.4,189.4 1130.9,190.2 1130.5,199.4 1126.9,199.4 1126.1,190.2 1124.4,189.1 1122,187.8 1120.4,188.6 1117.1,190.2 1115.5,193.4 1113.2,194.2 1112.7,212.4 1111.1,212.4 1110.6,191 1109,192.6 1106.6,192.6 1105.8,199.1 1103.3,199.1 1102.5,194.2 1100.5,194.2 1100.1,205.3 1098.4,205.3 1097.6,195.9 1096,195.9 1094.4,200.8 1093.2,200.8 1092.8,213.3 1090.3,213.3 1089.5,208.1 1088.7,204 1086.6,202.4 1085.9,206.4 1084.3,206.4 1083.8,197.5 1083,192.6 1081.4,192.6 1080.6,198.3 1078.1,198.3 1077.3,193.4 1074.9,192.6 1074.1,197.5 1072.4,197.5 1070.8,193.4 1068.7,194.2 1068,201.6 1066.4,201.6 1065.9,194.2 1064.3,192.6 1061.9,192.6 1061.1,195.9 1059.4,195.9 1057,192.6 1054.6,192.6 1054.3,205.6 1053,205.6 1051.8,192.6 1050.1,197.5 1049.8,220.6 1048.2,220.6 1047.7,197.5 1046.1,193.4 1044.4,191 1042.8,189.4 1041.2,188.6 1038.8,189.1 1037.9,191.8 1035.2,192.6 1034.7,199.9 1033.1,199.9 1032.2,191 1029.8,191 1028.2,194.2 1026.1,195.9 1025.4,203.2 1023.3,203.2 1022.8,194.2 1021.2,194.2 1020.9,236.7 1019.2,236.7 1018.9,200.8 1018,201.6 1017.3,208.6 1015.2,208.6 1014.4,195.9 1013.6,188.6 1011.1,188.6 1009.5,189.4 1007.1,189.4 1006.2,192.9 1004.6,192.9 1003,191 1000.6,190.2 998.1,191 996.2,194.2 995.7,204.3 994.1,204.3 993.6,193.4 992.4,193.4 991.6,197.5 989.7,197.5 988.4,191 985.9,191 985.1,194.2 983.5,193.4 982.7,189.4 981.1,190.2 980.2,195.1 978.1,195.9 977.6,212.4 976.2,212.4 975.9,204.3 974.6,204.3 973.8,199.1 972.1,198.3 971.3,191 969.7,191 969.2,198.3 967.2,198.3 966.4,199.9 964.8,199.9 964,195.9 962.4,192.6 960.1,192.6 959.6,224.3 958,224.3 957.5,194.2 956.7,192.6 955.1,193.4 954.6,218.3 953,218.3 952.3,198.3 950.7,198.3 950.2,191.8 948.6,188.6 946.1,187.8 944.5,191 944,218.3 942.4,218.3 942.1,189.1 941.2,189.4 939.6,191 938,191 937.2,195.1 935.6,195.1 934.8,192.6 933.1,191 932.3,192.9 930.7,192.9 929.9,191 928.2,189.4 926.6,189.1 925,191 923,191 922.6,203.2 921.1,203.2 920.5,191 919.3,191 918.5,189.1 916.1,189.1 914.4,191.8 912.3,191.8 911.7,195.9 910.4,196.7 909.7,200.4 908.4,200.4 908.1,195.9 907.1,195.9 906.3,191 904.2,191 903.5,193.4 902.6,193.4 901.4,191 899.5,191.8 899,199.1 897.4,199.1 896.6,195.1 894.5,194.2 893.8,202.4 892.2,202.4 891.7,194.2 890.1,193.4 889.2,190.2 887,190.2 886.5,196.2 884.9,196.2 884.4,190.2 881.9,190.2 881.5,195.6 879.8,195.6 879.5,194.2 878.4,194.2 877.9,189.4 875.9,189.4 875.4,192.6 874.3,192.6 873.8,189.4 871.7,189.4 871,195.6 869.4,195.6 868.1,190.2 867.3,188.6 865.7,186.9 863.2,187.8 861.6,190.2 860,191 859.5,191.1 858.5,191.1 857.7,194.1 855.6,194.4 854.9,199.2 852.8,199.2 852,196 850.9,196.8 850.4,204.6 848.4,204.6 847.9,196 846.3,196 845.5,200.1 844.7,203.8 843.2,203.8 842.7,209.5 841.1,209.5 840.6,202.5 838.2,202.5 837.4,194.4 835.8,194.4 834.9,190.3 833.1,190.3 832.7,195.7 831.2,195.7 830.9,189.5 830.2,189.5 829.9,198.9 828.4,198.9 827.6,196.8 826.8,188.7 825.2,189.5 822.8,190.3 821.9,191.9 820.3,192.4 819.5,189.5 817.2,189.5 816.7,194.7 815.4,194.7 815.1,189.2 814,189.2 813.5,193.6 812.4,193.6 811.9,188.7 810.6,188.7 808.1,187.9 805.7,188.7 804.9,192.8 802.3,192.8 801.8,201.7 800.5,201.7 800,194.4 799.2,194.4 798.4,191.9 796.1,191.1 795.8,200.6 794.1,200.6 793.5,191.1 792.7,186.2 791.1,187.9 789.4,190.3 788.6,196 787,196.8 786.8,221.7 785.2,221.7 785,190.3 783.8,187.9 782.1,187.9 781.5,191.9 780.5,191.9 779.7,188.7 778.1,189.5 777.2,191.1 775.6,190.3 774.8,192.8 772.7,193.6 772,195.2 770.4,195.7 769.9,191.1 768,191.1 767.5,194.4 765.1,194.4 764.2,191.1 763.1,191.1 762.6,196.8 761.3,196.8 761,191.9 759.4,191.9 758.6,190.3 755.5,190.3 755,195.2 753.7,195.2 753.2,192.8 752.2,192.8 751.7,201.7 750.1,201.7 749.6,189.5 747.2,190.3 746.4,195.2 745.1,195.2 744.8,199.2 743.5,199.2 742.3,191.9 740.2,191.1 739.5,195.2 737.9,196 737.6,201.7 736.3,201.7 735.8,191.1 733.4,187.9 730.9,189.5 730.6,200.9 728.8,200.9 728.5,194.4 727.2,194.4 726.9,201.7 724.9,202.5 724.6,209.5 723.3,209.5 722.8,208.2 720,208.2 719.6,216.8 718.3,216.8 717.6,212.2 716.6,204.9 716.3,208.2 714.2,208.2 713.9,203.3 711.4,202.5 711,198.4 709,198.4 708.7,221.2 707,221.2 706.6,235 704.9,235 704.6,247.7 703.3,247.7 703,227.7 702.2,227.7 702,309.3 699.2,309.3 698.9,265.9 696.3,265.9 696,209 694.9,209 694.7,268.3 693.2,268.3 693.1,238.2 691.1,238.2 690.8,254.5 689.2,254.5 689.2,221.2 687.9,221.2 687.5,241.5 685.9,241.5 685.9,209 684.6,209 684.6,199.2 683.3,199.2 683.3,180.9"/>
<polygon fill="#ffff00" shape-rendering="crispEdges" points="683,180 684,180 684,180 685,180 685,180 686,180 686,178 687,178 687,179 688,179 688,172 689,172 689,176 690,176 690,176 691,176 691,176 692,176 692,177 693,177 693,177 694,177 694,174 695,174 695,179 696,179 696,179 697,179 697,180 698,180 698,179 699,179 699,175 700,175 700,179 701,179 701,172 702,172 702,179 703,179 703,176 704,176 704,179 705,179 705,176 706,176 706,177 707,177 707,178 708,178 708,176 709,176 709,175 710,175 710,178 711,178 711,177 712,177 712,173 713,173 713,177 714,177 714,177 715,177 715,175 716,175 716,178 717,178 717,176 718,176 718,178 719,178 719,178 720,178 720,177 721,177 721,177 722,177 722,178 723,178 723,178 724,178 724,176 725,176 725,176 726,176 726,172 727,172 727,173 728,173 728,177 729,177 729,171 730,171 730,174 731,174 731,176 732,176 732,177 733,177 733,177 734,177 734,177 735,177 735,177 736,177 736,180 737,180 737,173 738,173 738,174 739,174 739,177 740,177 740,178 741,178 741,179 742,179 742,175 743,175 743,175 744,175 744,177 745,177 745,177 746,177 746,176 747,176 747,179 748,179 748,178 749,178 749,178 750,178 750,180 751,180 751,180 752,180 752,177 753,177 753,177 754,177 754,177 755,177 755,179 756,179 756,177 757,177 757,177 758,177 758,177 759,177 759,180 760,180 760,179 761,179 761,178 762,178 762,179 763,179 763,178 764,178 764,178 765,178 765,179 766,179 766,180 767,180 767,178 768,178 768,178 769,178 769,178 770,178 770,179 771,179 771,179 772,179 772,179 773,179 773,179 774,179 774,180 775,180 775,180 776,180 776,179 777,179 777,179 778,179 778,179 779,179 779,180 780,180 780,179 781,179 781,179 782,179 782,180 783,180 783,178 784,178 784,180 785,180 785,179 786,179 786,180 787,180 787,178 788,178 788,179 789,179 789,179 790,179 790,180 791,180 791,178 792,178 792,179 793,179 793,179 794,179 794,180 795,180 795,180 796,180 796,179 797,179 797,178 798,178 798,177 799,177 799,179 800,179 800,179 801,179 801,178 802,178 802,180 803,180 803,179 804,179 804,178 805,178 805,178 806,178 806,179 807,179 807,179 808,179 808,178 809,178 809,179 810,179 810,180 811,180 811,180 812,180 812,179 813,179 813,177 814,177 814,179 815,179 815,180 816,180 816,179 817,179 817,180 818,180 818,178 819,178 819,179 820,179 820,180 821,180 821,178 822,178 822,178 823,178 823,179 824,179 824,179 825,179 825,179 826,179 826,177 827,177 827,177 828,177 828,178 829,178 829,178 830,178 830,179 831,179 831,180 832,180 832,179 833,179 833,178 834,178 834,179 835,179 835,176 836,176 836,179 837,179 837,178 838,178 838,179 839,179 839,175 840,175 840,178 841,178 841,176 842,176 842,161 843,161 843,168 844,168 844,170 845,170 845,171 846,171 846,177 847,177 847,173 848,173 848,176 849,176 849,173 850,173 850,170 851,170 851,178 852,178 852,178 853,178 853,174 854,174 854,176 855,176 855,179 856,179 856,175 857,175 857,179 858,179 858,179 859,179 859,179 860,179 860,176 861,176 861,176 862,176 862,179 863,179 863,180 864,180 864,179 865,179 865,177 866,177 866,178 867,178 867,179 868,179 868,179 869,179 869,179 870,179 870,177 871,177 871,173 872,173 872,176 873,176 873,174 874,174 874,174 875,174 875,179 876,179 876,178 877,178 877,179 878,179 878,179 879,179 879,178 880,178 880,180 881,180 881,178 882,178 882,179 883,179 883,177 884,177 884,179 885,179 885,177 886,177 886,179 887,179 887,177 888,177 888,177 889,177 889,179 890,179 890,179 891,179 891,179 892,179 892,177 893,177 893,173 894,173 894,171 895,171 895,172 896,172 896,174 897,174 897,176 898,176 898,174 899,174 899,175 900,175 900,175 901,175 901,179 902,179 902,177 903,177 903,177 904,177 904,179 905,179 905,179 906,179 906,179 907,179 907,177 908,177 908,179 909,179 909,179 910,179 910,177 911,177 911,179 912,179 912,180 913,180 913,178 914,178 914,177 915,177 915,177 916,177 916,179 917,179 917,179 918,179 918,179 919,179 919,177 920,177 920,179 921,179 921,177 922,177 922,180 923,180 923,180 924,180 924,177 925,177 925,179 926,179 926,180 927,180 927,179 928,179 928,179 929,179 929,180 930,180 930,180 931,180 931,179 932,179 932,179 933,179 933,177 934,177 934,178 935,178 935,177 936,177 936,180 937,180 937,179 938,179 938,179 939,179 939,180 940,180 940,180 941,180 941,180 942,180 942,179 943,179 943,179 944,179 944,179 945,179 945,179 946,179 946,179 947,179 947,177 948,177 948,177 949,177 949,177 950,177 950,177 951,177 951,176 952,176 952,176 953,176 953,179 954,179 954,177 955,177 955,177 956,177 956,178 957,178 957,178 958,178 958,177 959,177 959,180 960,180 960,179 961,179 961,179 962,179 962,179 963,179 963,177 964,177 964,180 965,180 965,179 966,179 966,179 967,179 967,173 968,173 968,179 969,179 969,179 970,179 970,177 971,177 971,178 972,178 972,178 973,178 973,178 974,178 974,176 975,176 975,176 976,176 976,179 977,179 977,180 978,180 978,177 979,177 979,177 980,177 980,176 981,176 981,179 982,179 982,178 983,178 983,178 984,178 984,179 985,179 985,178 986,178 986,178 987,178 987,178 988,178 988,178 989,178 989,180 990,180 990,179 991,179 991,180 992,180 992,180 993,180 993,180 994,180 994,179 995,179 995,179 996,179 996,179 997,179 997,179 998,179 998,180 999,180 999,179 1000,179 1000,178 1001,178 1001,180 1002,180 1002,178 1003,178 1003,178 1004,178 1004,179 1005,179 1005,179 1006,179 1006,178 1007,178 1007,178 1008,178 1008,180 1009,180 1009,180 1010,180 1010,180 1011,180 1011,176 1012,176 1012,177 1013,177 1013,177 1014,177 1014,177 1015,177 1015,176 1016,176 1016,179 1017,179 1017,178 1018,178 1018,180 1019,180 1019,178 1020,178 1020,180 1021,180 1021,177 1022,177 1022,179 1023,179 1023,177 1024,177 1024,177 1025,177 1025,179 1026,179 1026,179 1027,179 1027,172 1028,172 1028,179 1029,179 1029,179 1030,179 1030,177 1031,177 1031,177 1032,177 1032,179 1033,179 1033,177 1034,177 1034,178 1035,178 1035,178 1036,178 1036,180 1037,180 1037,179 1038,179 1038,177 1039,177 1039,177 1040,177 1040,179 1041,179 1041,180 1042,180 1042,178 1043,178 1043,180 1044,180 1044,180 1045,180 1045,179 1046,179 1046,179 1047,179 1047,179 1048,179 1048,176 1049,176 1049,164 1050,164 1050,169 1051,169 1051,170 1052,170 1052,178 1053,178 1053,179 1054,179 1054,179 1055,179 1055,178 1056,178 1056,178 1057,178 1057,179 1058,179 1058,178 1059,178 1059,175 1060,175 1060,179 1061,179 1061,179 1062,179 1062,179 1063,179 1063,177 1064,177 1064,177 1065,177 1065,178 1066,178 1066,179 1067,179 1067,179 1068,179 1068,179 1069,179 1069,179 1070,179 1070,180 1071,180 1071,179 1072,179 1072,179 1073,179 1073,179 1074,179 1074,178 1075,178 1075,179 1076,179 1076,179 1077,179 1077,179 1078,179 1078,179 1079,179 1079,179 1080,179 1080,179 1081,179 1081,179 1082,179 1082,176 1083,176 1083,179 1084,179 1084,175 1085,175 1085,175 1086,175 1086,178 1087,178 1087,179 1088,179 1088,175 1089,175 1089,176 1090,176 1090,177 1091,177 1091,178 1092,178 1092,178 1093,178 1093,179 1094,179 1094,178 1095,178 1095,178 1096,178 1096,177 1097,177 1097,171 1098,171 1098,171 1099,171 1099,177 1100,177 1100,176 1101,176 1101,176 1102,176 1102,179 1103,179 1103,176 1104,176 1104,177 1105,177 1105,177 1106,177 1106,177 1107,177 1107,179 1108,179 1108,177 1109,177 1109,180 1110,180 1110,180 1111,180 1111,179 1112,179 1112,180 1113,180 1113,177 1114,177 1114,179 1115,179 1115,179 1116,179 1116,177 1117,177 1117,179 1118,179 1118,178 1119,178 1119,179 1120,179 1120,177 1121,177 1121,177 1122,177 1122,177 1123,177 1123,177 1124,177 1124,177 1125,177 1125,177 1126,177 1126,179 1127,179 1127,179 1128,179 1128,179 1129,179 1129,177 1130,177 1130,180 1131,180 1131,178 1132,178 1132,179 1133,179 1133,178 1134,178 1134,178 1135,178 1135,177 1136,177 1136,177 1137,177 1137,179 1138,179 1138,179 1139,179 1139,179 1140,179 1140,175 1141,175 1141,164 1142,164 1142,175 1143,175 1143,175 1144,175 1144,179 1145,179 1145,177 1146,177 1146,179 1147,179 1147,179 1148,179 1148,185 1147,185 1147,185 1146,185 1146,186 1145,186 1145,185 1144,185 1144,183 1143,183 1143,186 1142,186 1142,197 1141,197 1141,185 1140,185 1140,184 1139,184 1139,184 1138,184 1138,184 1137,184 1137,183 1136,183 1136,184 1135,184 1135,185 1134,185 1134,186 1133,186 1133,186 1132,186 1132,183 1131,183 1131,183 1130,183 1130,183 1129,183 1129,184 1128,184 1128,184 1127,184 1127,187 1126,187 1126,184 1125,184 1125,187 1124,187 1124,185 1123,185 1123,183 1122,183 1122,183 1121,183 1121,185 1120,185 1120,185 1119,185 1119,182 1118,182 1118,184 1117,184 1117,185 1116,185 1116,184 1115,184 1115,183 1114,183 1114,183 1113,183 1113,185 1112,185 1112,185 1111,185 1111,184 1110,184 1110,184 1109,184 1109,183 1108,183 1108,183 1107,183 1107,184 1106,184 1106,184 1105,184 1105,184 1104,184 1104,184 1103,184 1103,184 1102,184 1102,184 1101,184 1101,185 1100,185 1100,185 1099,185 1099,184 1098,184 1098,190 1097,190 1097,190 1096,190 1096,184 1095,184 1095,188 1094,188 1094,185 1093,185 1093,187 1092,187 1092,186 1091,186 1091,188 1090,188 1090,185 1089,185 1089,188 1088,188 1088,184 1087,184 1087,185 1086,185 1086,188 1085,188 1085,183 1084,183 1084,185 1083,185 1083,185 1082,185 1082,184 1081,184 1081,186 1080,186 1080,186 1079,186 1079,185 1078,185 1078,184 1077,184 1077,183 1076,183 1076,186 1075,186 1075,184 1074,184 1074,182 1073,182 1073,182 1072,182 1072,186 1071,186 1071,184 1070,184 1070,183 1069,183 1069,186 1068,186 1068,184 1067,184 1067,183 1066,183 1066,185 1065,185 1065,186 1064,186 1064,186 1063,186 1063,187 1062,187 1062,185 1061,185 1061,185 1060,185 1060,183 1059,183 1059,186 1058,186 1058,186 1057,186 1057,184 1056,184 1056,186 1055,186 1055,188 1054,188 1054,190 1053,190 1053,190 1052,190 1052,189 1051,189 1051,193 1050,193 1050,203 1049,203 1049,191 1048,191 1048,184 1047,184 1047,185 1046,185 1046,183 1045,183 1045,183 1044,183 1044,183 1043,183 1043,183 1042,183 1042,184 1041,184 1041,185 1040,185 1040,184 1039,184 1039,187 1038,187 1038,185 1037,185 1037,183 1036,183 1036,186 1035,186 1035,183 1034,183 1034,186 1033,186 1033,186 1032,186 1032,185 1031,185 1031,186 1030,186 1030,185 1029,185 1029,183 1028,183 1028,189 1027,189 1027,190 1026,190 1026,185 1025,185 1025,186 1024,186 1024,186 1023,186 1023,183 1022,183 1022,185 1021,185 1021,185 1020,185 1020,183 1019,183 1019,183 1018,183 1018,185 1017,185 1017,184 1016,184 1016,184 1015,184 1015,185 1014,185 1014,186 1013,186 1013,185 1012,185 1012,189 1011,189 1011,184 1010,184 1010,183 1009,183 1009,183 1008,183 1008,184 1007,184 1007,184 1006,184 1006,184 1005,184 1005,183 1004,183 1004,184 1003,184 1003,185 1002,185 1002,184 1001,184 1001,182 1000,182 1000,183 999,183 999,184 998,184 998,183 997,183 997,183 996,183 996,184 995,184 995,185 994,185 994,185 993,185 993,183 992,183 992,184 991,184 991,185 990,185 990,185 989,185 989,185 988,185 988,183 987,183 987,184 986,184 986,182 985,182 985,185 984,185 984,184 983,184 983,184 982,184 982,187 981,187 981,185 980,185 980,185 979,185 979,186 978,186 978,184 977,184 977,186 976,186 976,186 975,186 975,186 974,186 974,185 973,185 973,185 972,185 972,185 971,185 971,186 970,186 970,186 969,186 969,185 968,185 968,190 967,190 967,190 966,190 966,185 965,185 965,184 964,184 964,183 963,183 963,183 962,183 962,185 961,185 961,185 960,185 960,185 959,185 959,183 958,183 958,186 957,186 957,184 956,184 956,185 955,185 955,183 954,183 954,184 953,184 953,185 952,185 952,187 951,187 951,184 950,184 950,185 949,185 949,185 948,185 948,185 947,185 947,185 946,185 946,183 945,183 945,184 944,184 944,184 943,184 943,184 942,184 942,183 941,183 941,184 940,184 940,185 939,185 939,185 938,185 938,185 937,185 937,183 936,183 936,183 935,183 935,183 934,183 934,183 933,183 933,184 932,184 932,184 931,184 931,183 930,183 930,182 929,182 929,183 928,183 928,185 927,185 927,185 926,185 926,184 925,184 925,183 924,183 924,183 923,183 923,184 922,184 922,183 921,183 921,183 920,183 920,185 919,185 919,185 918,185 918,184 917,184 917,185 916,185 916,183 915,183 915,184 914,184 914,183 913,183 913,183 912,183 912,183 911,183 911,183 910,183 910,183 909,183 909,185 908,185 908,184 907,184 907,184 906,184 906,184 905,184 905,184 904,184 904,183 903,183 903,185 902,185 902,187 901,187 901,187 900,187 900,188 899,188 899,186 898,186 898,186 897,186 897,185 896,185 896,189 895,189 895,191 894,191 894,195 893,195 893,186 892,186 892,183 891,183 891,183 890,183 890,183 889,183 889,185 888,185 888,184 887,184 887,184 886,184 886,183 885,183 885,184 884,184 884,186 883,186 883,186 882,186 882,186 881,186 881,185 880,185 880,183 879,183 879,186 878,186 878,186 877,186 877,185 876,185 876,185 875,185 875,185 874,185 874,184 873,184 873,188 872,188 872,189 871,189 871,184 870,184 870,183 869,183 869,184 868,184 868,186 867,186 867,184 866,184 866,184 865,184 865,184 864,184 864,184 863,184 863,183 862,183 862,186 861,186 861,184 860,184 860,184 859,184 859,184 858,184 858,184 857,184 857,184 856,184 856,184 855,184 855,188 854,188 854,185 853,185 853,184 852,184 852,185 851,185 851,190 850,190 850,191 849,191 849,187 848,187 848,186 847,186 847,191 846,191 846,193 845,193 845,195 844,195 844,199 843,199 843,199 842,199 842,191 841,191 841,185 840,185 840,185 839,185 839,184 838,184 838,185 837,185 837,184 836,184 836,187 835,187 835,186 834,186 834,185 833,185 833,183 832,183 832,184 831,184 831,183 830,183 830,184 829,184 829,187 828,187 828,185 827,185 827,184 826,184 826,183 825,183 825,183 824,183 824,184 823,184 823,184 822,184 822,186 821,186 821,186 820,186 820,186 819,186 819,183 818,183 818,183 817,183 817,183 816,183 816,184 815,184 815,184 814,184 814,186 813,186 813,186 812,186 812,184 811,184 811,184 810,184 810,183 809,183 809,182 808,182 808,184 807,184 807,184 806,184 806,185 805,185 805,184 804,184 804,183 803,183 803,184 802,184 802,184 801,184 801,186 800,186 800,185 799,185 799,185 798,185 798,185 797,185 797,185 796,185 796,185 795,185 795,183 794,183 794,184 793,184 793,183 792,183 792,183 791,183 791,185 790,185 790,183 789,183 789,183 788,183 788,185 787,185 787,185 786,185 786,183 785,183 785,184 784,184 784,185 783,185 783,183 782,183 782,183 781,183 781,183 780,183 780,184 779,184 779,183 778,183 778,183 777,183 777,184 776,184 776,183 775,183 775,183 774,183 774,183 773,183 773,184 772,184 772,183 771,183 771,185 770,185 770,183 769,183 769,183 768,183 768,184 767,184 767,183 766,183 766,183 765,183 765,185 764,185 764,185 763,185 763,185 762,185 762,185 761,185 761,184 760,184 760,184 759,184 759,183 758,183 758,184 757,184 757,185 756,185 756,186 755,186 755,184 754,184 754,184 753,184 753,184 752,184 752,183 751,183 751,185 750,185 750,183 749,183 749,185 748,185 748,185 747,185 747,186 746,186 746,183 745,183 745,185 744,185 744,186 743,186 743,185 742,185 742,185 741,185 741,184 740,184 740,186 739,186 739,186 738,186 738,185 737,185 737,188 736,188 736,188 735,188 735,190 734,190 734,187 733,187 733,191 732,191 732,187 731,187 731,190 730,190 730,186 729,186 729,186 728,186 728,186 727,186 727,187 726,187 726,190 725,190 725,190 724,190 724,186 723,186 723,187 722,187 722,186 721,186 721,185 720,185 720,186 719,186 719,185 718,185 718,186 717,186 717,185 716,185 716,185 715,185 715,191 714,191 714,185 713,185 713,185 712,185 712,185 711,185 711,183 710,183 710,188 709,188 709,189 708,189 708,187 707,187 707,186 706,186 706,185 705,185 705,184 704,184 704,187 703,187 703,189 702,189 702,186 701,186 701,185 700,185 700,183 699,183 699,184 698,184 698,184 697,184 697,186 696,186 696,185 695,185 695,186 694,186 694,186 693,186 693,185 692,185 692,185 691,185 691,189 690,189 690,185 689,185 689,191 688,191 688,185 687,185 687,185 686,185 686,185 685,185 685,187 684,187 684,187 683,187"/>
<rect class="k" x="665.5" y="65.5" width="501" height="253"/>
<rect x="1002.5" y="65.5" width="164" height="48" fill="#fff" class="k" style="fill:#fff"/>
<path d="M1014 81h25" stroke="#0000ff" stroke-width="2" shape-rendering="crispEdges"/>
<path d="M1014 97.5h25" stroke="#ffff00" stroke-width="1" shape-rendering="crispEdges"/>
<text class="l" x="1050" y="86.7" textLength="100.6">EGY stock return</text>
<text class="l" x="1050" y="102.6" textLength="109.4">GSPC stock return</text>
<text class="t" x="314.3" y="440.1">EGY versus S&amp;P500 stock return distribution</text>
<path class="k" d="M124.5 718.5H552.5M124.5 718.5v8M195.5 718.5v8M266.5 718.5v8M338.5 718.5v8M409.5 718.5v8M480.5 718.5v8M552.5 718.5v8M65.5 465.5V709.5M65.5 709.5h-8.5M65.5 668.5h-8.5M65.5 628.5h-8.5M65.5 587.5h-8.5M65.5 547.5h-8.5M65.5 506.5h-8.5M65.5 465.5h-8.5"/>
<text class="a" x="124.2" y="747.5">-0.6</text>
<text class="a" x="195.5" y="747.5">-0.4</text>
<text class="a" x="266.8" y="747.5">-0.2</text>
<text class="a" x="338.1" y="747.5">0.0</text>
<text class="a" x="409.5" y="747.5">0.2</text>
<text class="a" x="480.8" y="747.5">0.4</text>
<text class="a" x="552.1" y="747.5">0.6</text>
<text class="a" transform="translate(46.7 709.4) rotate(-90)">0</text>
<text class="a" transform="translate(46.7 668.8) rotate(-90)">10</text>
<text class="a" transform="translate(46.7 628.2) rotate(-90)">20</text>
<text class="a" transform="translate(46.7 587.6) rotate(-90)">30</text>
<text class="a" transform="translate(46.7 547) rotate(-90)">40</text>
<text class="a" transform="translate(46.7 506.4) rotate(-90)">50</text>
<text class="a" transform="translate(46.7 465.8) rotate(-90)">60</text>
<polyline fill="none" stroke="#228b22" stroke-width="2" stroke-linejoin="round" shape-rendering="crispEdges" points="79,708.6 150,708.6 220,708.6 281,708.6 283,707.8 295,707.1 305,706.6 308.8,703.8 312.5,702.5 316.2,701.9 320,698.5 321.9,693.8 325,687.5 328.8,678.8 331.9,671.2 333.8,665 335,656.2 336.2,643.8 337.2,636.9 338.1,636.9 339.4,643.8 340.6,653.8 341.9,663.8 343.8,671.2 346.2,677.5 348.1,685 351.9,691.2 355,696.9 358.8,701.2 361.9,702.2 365,704.4 368.8,706.2 375,707.1 380,707.9 400,708.2 402,707.6 404,708.6 415.5,708.6 416,707.6 418,707.6 418.5,708.6 500,708.6 552.6,708.6"/>
<path d="M65.5 709.5H566.5" stroke="#bebebe" stroke-width="1" shape-rendering="crispEdges"/>
<polyline fill="none" stroke="#ffa500" stroke-width="1" stroke-linejoin="round" shape-rendering="crispEdges" points="311.4,709 322.4,708.3 325.4,707 327.9,703 329.9,697.5 331.4,689 332.4,679 333.3,667 334.1,656 334.8,631 335.6,620 335.8,606 336.3,580 336.8,552 337.4,530 337.8,505 338.4,479.5 339,505 339.4,530 340,552 340.5,580 341,606 341.2,620 342,631 342.6,656 343.5,667 344.4,679 345.4,689 346.9,697.5 348.9,703 351.4,707 354.4,708.3 365.4,709"/>
<rect class="k" x="65.5" y="465.5" width="501" height="253"/>
<rect x="65.5" y="465.5" width="195" height="48" class="k" style="fill:#fff"/>
<path d="M77 481h25" stroke="#228b22" stroke-width="2" shape-rendering="crispEdges"/>
<path d="M77 497.5h25" stroke="#ffa500" stroke-width="1" shape-rendering="crispEdges"/>
<text class="l" x="113.3" y="486.7" textLength="131.2">EGY return distribution</text>
<text class="l" x="113.3" y="502.6" textLength="140.4">GSPC return distribution</text>
<text class="t" x="915" y="440.1">EGY versus S&amp;P500 return frequency distribution</text>
<path class="k" d="M665.5 507.5V716.5M665.5 716.5h-8.5M665.5 674.5h-8.5M665.5 632.5h-8.5M665.5 591.5h-8.5M665.5 549.5h-8.5M665.5 507.5h-8.5"/>
<text class="a" transform="translate(646.7 716.4) rotate(-90)">0</text>
<text class="a" transform="translate(646.7 674.6) rotate(-90)">1000</text>
<text class="a" transform="translate(646.7 632.8) rotate(-90)">2000</text>
<text class="a" transform="translate(646.7 591) rotate(-90)">3000</text>
<text class="a" transform="translate(646.7 549.2) rotate(-90)">4000</text>
<text class="a" transform="translate(646.7 507.4) rotate(-90)">5000</text>
<text class="a" x="688.6" y="747.5">[-0.713,-0.67)</text>
<text class="a" x="782.5" y="747.5">[-0.453,-0.409)</text>
<text class="a" x="892" y="747.5">[-0.149,-0.106)</text>
<text class="a" x="985.8" y="747.5" textLength="76.5">[0.111,0.155)</text>
<text class="a" x="1079.7" y="747.5">[0.372,0.415)</text>
<text class="a" x="914.6" y="780.3">return</text>
<text class="a" transform="translate(615.3 592.5) rotate(-90)">frequency</text>
<g shape-rendering="crispEdges" stroke="#000" stroke-width="1">
<clipPath id="c4"><rect x="665.5" y="465.5" width="501" height="253"/></clipPath>
<g clip-path="url(#c4)">
<path d="M683 716.5H690"/>
<path d="M689 716.5H695"/>
<path d="M699 716.5H705"/>
<path d="M704 716.5H710"/>
<path d="M715 716.5H721"/>
<path d="M720 716.5H726"/>
<path d="M730 716.5H737"/>
<path d="M736 716.5H742"/>
<path d="M746 716.5H752"/>
<path d="M751 716.5H757"/>
<path d="M762 716.5H768"/>
<path d="M767 716.5H773"/>
<path d="M777 716.5H783"/>
<path d="M782 716.5H789"/>
<path d="M793 716.5H799"/>
<path d="M798 716.5H804"/>
<path d="M809 716.5H815"/>
<path d="M814 716.5H820"/>
<rect x="824.5" y="715.5" width="5" height="1" fill="#0000ff"/>
<path d="M829 716.5H836"/>
<path d="M840 716.5H846"/>
<path d="M845 716.5H851"/>
<rect x="855.5" y="715.5" width="6" height="1" fill="#0000ff"/>
<path d="M861 716.5H867"/>
<rect x="871.5" y="715.5" width="5" height="1" fill="#0000ff"/>
<path d="M876 716.5H883"/>
<rect x="887.5" y="713.5" width="5" height="3" fill="#0000ff"/>
<path d="M892 716.5H898"/>
<rect x="902.5" y="706.5" width="6" height="10" fill="#0000ff"/>
<rect x="908.5" y="715.5" width="5" height="1" fill="#ffff00"/>
<rect x="918.5" y="661.5" width="5" height="55" fill="#0000ff"/>
<rect x="923.5" y="703.5" width="5" height="13" fill="#ffff00"/>
<rect x="934.5" y="573.5" width="5" height="143" fill="#0000ff"/>
<rect x="939.5" y="448.5" width="5" height="268" fill="#ffff00"/>
<rect x="949.5" y="672.5" width="6" height="44" fill="#0000ff"/>
<rect x="955.5" y="710.5" width="5" height="6" fill="#ffff00"/>
<rect x="965.5" y="707.5" width="5" height="9" fill="#0000ff"/>
<rect x="970.5" y="715.5" width="5" height="1" fill="#ffff00"/>
<rect x="981.5" y="713.5" width="5" height="3" fill="#0000ff"/>
<path d="M986 716.5H992"/>
<rect x="996.5" y="715.5" width="5" height="1" fill="#0000ff"/>
<path d="M1001 716.5H1008"/>
<rect x="1012.5" y="715.5" width="5" height="1" fill="#0000ff"/>
<path d="M1017 716.5H1023"/>
<path d="M1028 716.5H1034"/>
<path d="M1033 716.5H1039"/>
<path d="M1043 716.5H1049"/>
<path d="M1048 716.5H1055"/>
<path d="M1059 716.5H1065"/>
<path d="M1064 716.5H1070"/>
<path d="M1074 716.5H1081"/>
<path d="M1080 716.5H1086"/>
<path d="M1090 716.5H1096"/>
<path d="M1095 716.5H1102"/>
<path d="M1106 716.5H1112"/>
<path d="M1111 716.5H1117"/>
<path d="M1121 716.5H1128"/>
<path d="M1127 716.5H1133"/>
<path d="M1137 716.5H1143"/>
<path d="M1142 716.5H1149"/>
</g></g>
<rect class="k" x="665.5" y="465.5" width="501" height="253"/>
<rect x="993.5" y="465.5" width="173" height="48" class="k" style="fill:#fff"/>
<rect x="1005.5" y="477.5" width="9" height="8" fill="#0000ff" class="k" style="fill:#0000ff"/>
<rect x="1005.5" y="493.5" width="9" height="8" class="k" style="fill:#ffff00"/>
<text class="l" x="1026.3" y="486.7" textLength="124.6">EGY return frequency</text>
<text class="l" x="1026.3" y="502.6" textLength="133.0">GSPC return frequency</text>
</svg></body></html>
